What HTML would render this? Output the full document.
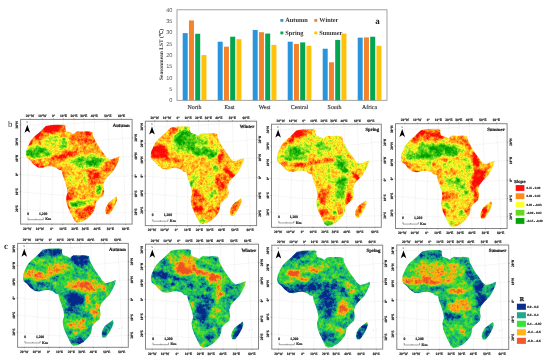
<!DOCTYPE html>
<html><head><meta charset="utf-8"><title>figure</title>
<style>html,body{margin:0;padding:0;background:#fff}body{width:550px;height:364px;overflow:hidden;font-family:"Liberation Serif",serif}svg{display:block;filter:blur(0.35px)}text{font-family:"Liberation Serif",serif;font-size:10px;font-weight:bold;text-anchor:middle;fill:#222;text-rendering:geometricPrecision}.k{fill:#2a2a2a;stroke:#2a2a2a;stroke-width:.55px}.t{stroke:#222;stroke-width:.45px}</style>
</head><body>
<svg width="550" height="364" viewBox="0 0 550 364">
<rect width="550" height="364" fill="#fff"/>
<defs><clipPath id="af"><path d="M5.2 35.1L6 30.1L8 25.6L10.4 20.9L14 16.9L18 13.6L22 9.8L25.2 6.5L30.2 5.5L36.3 5L43 5L45 6.2L44.6 8.6L45.6 11.7L50.2 13.2L53 14.8L54.6 13L56.6 11.8L59.6 12L62.6 12.2L65.8 11.8L68.8 12.1L71.9 12.8L72.6 17.1L74.9 21.6L78 27.1L81.9 32.4L85.7 37.8L88.8 40.2L93.4 39L99 36.9L98.2 40.9L95.7 46.3L92.6 51.6L87.2 57.1L84.2 60.9L82.6 65.5L83.6 71.6L82.6 76.3L78.8 79.4L75.2 83.2L74.6 87.8L73.4 91.6L70.3 95.5L66.4 99.4L61.1 102.4L56.4 103.3L53.8 101.2L51.8 97.2L49.8 93L47.7 88.6L46.1 84L45.4 78.6L46.9 73.2L46.3 68.6L45 64L43.4 59.4L41.8 54.8L41.1 51.2L38 50.4L35.7 48.3L31.1 46.9L26.4 47.2L21.9 48.4L17.2 48L12.6 44.5L9.6 40.8L6.3 38.4ZM95.8 77.2L96.7 80.1L95 84.9L92 90.4L88.6 94.9L85.6 94.8L84.6 91.6L85.2 88L87.6 83.6L91 80.8L93.8 78.8Z"/></clipPath></defs>
<defs><radialGradient id="v1"><stop offset="0" stop-color="#050505"/><stop offset="0.45" stop-color="#050505"/><stop offset="1" stop-color="#050505" stop-opacity="0"/></radialGradient><radialGradient id="v2"><stop offset="0" stop-color="#0a0a0a"/><stop offset="0.45" stop-color="#0a0a0a"/><stop offset="1" stop-color="#0a0a0a" stop-opacity="0"/></radialGradient><radialGradient id="v3"><stop offset="0" stop-color="#0f0f0f"/><stop offset="0.45" stop-color="#0f0f0f"/><stop offset="1" stop-color="#0f0f0f" stop-opacity="0"/></radialGradient><radialGradient id="v4"><stop offset="0" stop-color="#141414"/><stop offset="0.45" stop-color="#141414"/><stop offset="1" stop-color="#141414" stop-opacity="0"/></radialGradient><radialGradient id="v5"><stop offset="0" stop-color="#1a1a1a"/><stop offset="0.45" stop-color="#1a1a1a"/><stop offset="1" stop-color="#1a1a1a" stop-opacity="0"/></radialGradient><radialGradient id="v6"><stop offset="0" stop-color="#1f1f1f"/><stop offset="0.45" stop-color="#1f1f1f"/><stop offset="1" stop-color="#1f1f1f" stop-opacity="0"/></radialGradient><radialGradient id="v7"><stop offset="0" stop-color="#242424"/><stop offset="0.45" stop-color="#242424"/><stop offset="1" stop-color="#242424" stop-opacity="0"/></radialGradient><radialGradient id="v8"><stop offset="0" stop-color="#292929"/><stop offset="0.45" stop-color="#292929"/><stop offset="1" stop-color="#292929" stop-opacity="0"/></radialGradient><radialGradient id="v9"><stop offset="0" stop-color="#2e2e2e"/><stop offset="0.45" stop-color="#2e2e2e"/><stop offset="1" stop-color="#2e2e2e" stop-opacity="0"/></radialGradient><radialGradient id="v10"><stop offset="0" stop-color="#333333"/><stop offset="0.45" stop-color="#333333"/><stop offset="1" stop-color="#333333" stop-opacity="0"/></radialGradient><radialGradient id="v11"><stop offset="0" stop-color="#383838"/><stop offset="0.45" stop-color="#383838"/><stop offset="1" stop-color="#383838" stop-opacity="0"/></radialGradient><radialGradient id="v12"><stop offset="0" stop-color="#3d3d3d"/><stop offset="0.45" stop-color="#3d3d3d"/><stop offset="1" stop-color="#3d3d3d" stop-opacity="0"/></radialGradient><radialGradient id="v13"><stop offset="0" stop-color="#424242"/><stop offset="0.45" stop-color="#424242"/><stop offset="1" stop-color="#424242" stop-opacity="0"/></radialGradient><radialGradient id="v14"><stop offset="0" stop-color="#474747"/><stop offset="0.45" stop-color="#474747"/><stop offset="1" stop-color="#474747" stop-opacity="0"/></radialGradient><radialGradient id="v15"><stop offset="0" stop-color="#4c4c4c"/><stop offset="0.45" stop-color="#4c4c4c"/><stop offset="1" stop-color="#4c4c4c" stop-opacity="0"/></radialGradient><radialGradient id="v16"><stop offset="0" stop-color="#525252"/><stop offset="0.45" stop-color="#525252"/><stop offset="1" stop-color="#525252" stop-opacity="0"/></radialGradient><radialGradient id="v17"><stop offset="0" stop-color="#575757"/><stop offset="0.45" stop-color="#575757"/><stop offset="1" stop-color="#575757" stop-opacity="0"/></radialGradient><radialGradient id="v18"><stop offset="0" stop-color="#5c5c5c"/><stop offset="0.45" stop-color="#5c5c5c"/><stop offset="1" stop-color="#5c5c5c" stop-opacity="0"/></radialGradient><radialGradient id="v19"><stop offset="0" stop-color="#616161"/><stop offset="0.45" stop-color="#616161"/><stop offset="1" stop-color="#616161" stop-opacity="0"/></radialGradient><radialGradient id="v20"><stop offset="0" stop-color="#666666"/><stop offset="0.45" stop-color="#666666"/><stop offset="1" stop-color="#666666" stop-opacity="0"/></radialGradient><radialGradient id="v21"><stop offset="0" stop-color="#6b6b6b"/><stop offset="0.45" stop-color="#6b6b6b"/><stop offset="1" stop-color="#6b6b6b" stop-opacity="0"/></radialGradient><radialGradient id="v22"><stop offset="0" stop-color="#707070"/><stop offset="0.45" stop-color="#707070"/><stop offset="1" stop-color="#707070" stop-opacity="0"/></radialGradient><radialGradient id="v23"><stop offset="0" stop-color="#757575"/><stop offset="0.45" stop-color="#757575"/><stop offset="1" stop-color="#757575" stop-opacity="0"/></radialGradient><radialGradient id="v24"><stop offset="0" stop-color="#7a7a7a"/><stop offset="0.45" stop-color="#7a7a7a"/><stop offset="1" stop-color="#7a7a7a" stop-opacity="0"/></radialGradient><radialGradient id="v25"><stop offset="0" stop-color="#808080"/><stop offset="0.45" stop-color="#808080"/><stop offset="1" stop-color="#808080" stop-opacity="0"/></radialGradient><radialGradient id="v26"><stop offset="0" stop-color="#858585"/><stop offset="0.45" stop-color="#858585"/><stop offset="1" stop-color="#858585" stop-opacity="0"/></radialGradient><radialGradient id="v27"><stop offset="0" stop-color="#8a8a8a"/><stop offset="0.45" stop-color="#8a8a8a"/><stop offset="1" stop-color="#8a8a8a" stop-opacity="0"/></radialGradient><radialGradient id="v28"><stop offset="0" stop-color="#8f8f8f"/><stop offset="0.45" stop-color="#8f8f8f"/><stop offset="1" stop-color="#8f8f8f" stop-opacity="0"/></radialGradient><radialGradient id="v29"><stop offset="0" stop-color="#949494"/><stop offset="0.45" stop-color="#949494"/><stop offset="1" stop-color="#949494" stop-opacity="0"/></radialGradient><radialGradient id="v30"><stop offset="0" stop-color="#999999"/><stop offset="0.45" stop-color="#999999"/><stop offset="1" stop-color="#999999" stop-opacity="0"/></radialGradient><radialGradient id="v31"><stop offset="0" stop-color="#9e9e9e"/><stop offset="0.45" stop-color="#9e9e9e"/><stop offset="1" stop-color="#9e9e9e" stop-opacity="0"/></radialGradient><radialGradient id="v32"><stop offset="0" stop-color="#a3a3a3"/><stop offset="0.45" stop-color="#a3a3a3"/><stop offset="1" stop-color="#a3a3a3" stop-opacity="0"/></radialGradient><radialGradient id="v33"><stop offset="0" stop-color="#a8a8a8"/><stop offset="0.45" stop-color="#a8a8a8"/><stop offset="1" stop-color="#a8a8a8" stop-opacity="0"/></radialGradient><radialGradient id="v34"><stop offset="0" stop-color="#adadad"/><stop offset="0.45" stop-color="#adadad"/><stop offset="1" stop-color="#adadad" stop-opacity="0"/></radialGradient><radialGradient id="v35"><stop offset="0" stop-color="#b2b2b2"/><stop offset="0.45" stop-color="#b2b2b2"/><stop offset="1" stop-color="#b2b2b2" stop-opacity="0"/></radialGradient><radialGradient id="v36"><stop offset="0" stop-color="#b8b8b8"/><stop offset="0.45" stop-color="#b8b8b8"/><stop offset="1" stop-color="#b8b8b8" stop-opacity="0"/></radialGradient><radialGradient id="v37"><stop offset="0" stop-color="#bdbdbd"/><stop offset="0.45" stop-color="#bdbdbd"/><stop offset="1" stop-color="#bdbdbd" stop-opacity="0"/></radialGradient><radialGradient id="v38"><stop offset="0" stop-color="#c2c2c2"/><stop offset="0.45" stop-color="#c2c2c2"/><stop offset="1" stop-color="#c2c2c2" stop-opacity="0"/></radialGradient><radialGradient id="v39"><stop offset="0" stop-color="#c7c7c7"/><stop offset="0.45" stop-color="#c7c7c7"/><stop offset="1" stop-color="#c7c7c7" stop-opacity="0"/></radialGradient><radialGradient id="v40"><stop offset="0" stop-color="#cccccc"/><stop offset="0.45" stop-color="#cccccc"/><stop offset="1" stop-color="#cccccc" stop-opacity="0"/></radialGradient><radialGradient id="v41"><stop offset="0" stop-color="#d1d1d1"/><stop offset="0.45" stop-color="#d1d1d1"/><stop offset="1" stop-color="#d1d1d1" stop-opacity="0"/></radialGradient><radialGradient id="v42"><stop offset="0" stop-color="#d6d6d6"/><stop offset="0.45" stop-color="#d6d6d6"/><stop offset="1" stop-color="#d6d6d6" stop-opacity="0"/></radialGradient><radialGradient id="v43"><stop offset="0" stop-color="#dbdbdb"/><stop offset="0.45" stop-color="#dbdbdb"/><stop offset="1" stop-color="#dbdbdb" stop-opacity="0"/></radialGradient><radialGradient id="v44"><stop offset="0" stop-color="#e0e0e0"/><stop offset="0.45" stop-color="#e0e0e0"/><stop offset="1" stop-color="#e0e0e0" stop-opacity="0"/></radialGradient><radialGradient id="v45"><stop offset="0" stop-color="#e6e6e6"/><stop offset="0.45" stop-color="#e6e6e6"/><stop offset="1" stop-color="#e6e6e6" stop-opacity="0"/></radialGradient><radialGradient id="v46"><stop offset="0" stop-color="#ebebeb"/><stop offset="0.45" stop-color="#ebebeb"/><stop offset="1" stop-color="#ebebeb" stop-opacity="0"/></radialGradient><radialGradient id="v47"><stop offset="0" stop-color="#f0f0f0"/><stop offset="0.45" stop-color="#f0f0f0"/><stop offset="1" stop-color="#f0f0f0" stop-opacity="0"/></radialGradient><radialGradient id="v48"><stop offset="0" stop-color="#f5f5f5"/><stop offset="0.45" stop-color="#f5f5f5"/><stop offset="1" stop-color="#f5f5f5" stop-opacity="0"/></radialGradient><radialGradient id="v50"><stop offset="0" stop-color="#ffffff"/><stop offset="0.45" stop-color="#ffffff"/><stop offset="1" stop-color="#ffffff" stop-opacity="0"/></radialGradient></defs>
<rect x="177" y="9.8" width="210" height="90.5" fill="#fff" stroke="#8c8c8c" stroke-width="0.8"/>
<rect x="182.70" y="33.10" width="5.0" height="67.20" fill="#2b95dc"/>
<rect x="188.95" y="20.43" width="5.0" height="79.87" fill="#f4842c"/>
<rect x="195.20" y="33.78" width="5.0" height="66.52" fill="#04a550"/>
<rect x="201.45" y="55.05" width="5.0" height="45.25" fill="#ffc20a"/>
<rect x="217.70" y="41.70" width="5.0" height="58.60" fill="#2b95dc"/>
<rect x="223.95" y="46.68" width="5.0" height="53.62" fill="#f4842c"/>
<rect x="230.20" y="36.72" width="5.0" height="63.58" fill="#04a550"/>
<rect x="236.45" y="39.21" width="5.0" height="61.09" fill="#ffc20a"/>
<rect x="252.70" y="29.94" width="5.0" height="70.36" fill="#2b95dc"/>
<rect x="258.95" y="32.20" width="5.0" height="68.10" fill="#f4842c"/>
<rect x="265.20" y="33.56" width="5.0" height="66.74" fill="#04a550"/>
<rect x="271.45" y="44.87" width="5.0" height="55.43" fill="#ffc20a"/>
<rect x="287.70" y="41.70" width="5.0" height="58.60" fill="#2b95dc"/>
<rect x="293.95" y="43.96" width="5.0" height="56.34" fill="#f4842c"/>
<rect x="300.20" y="42.38" width="5.0" height="57.92" fill="#04a550"/>
<rect x="306.45" y="45.77" width="5.0" height="54.53" fill="#ffc20a"/>
<rect x="322.70" y="48.71" width="5.0" height="51.59" fill="#2b95dc"/>
<rect x="328.95" y="62.29" width="5.0" height="38.01" fill="#f4842c"/>
<rect x="335.20" y="39.89" width="5.0" height="60.41" fill="#04a550"/>
<rect x="341.45" y="33.56" width="5.0" height="66.74" fill="#ffc20a"/>
<rect x="357.70" y="37.63" width="5.0" height="62.67" fill="#2b95dc"/>
<rect x="363.95" y="37.40" width="5.0" height="62.90" fill="#f4842c"/>
<rect x="370.20" y="36.72" width="5.0" height="63.58" fill="#04a550"/>
<rect x="376.45" y="45.77" width="5.0" height="54.53" fill="#ffc20a"/>
<text transform="translate(172.40 102.20) scale(0.56)" style="font-family:'Liberation Sans',sans-serif;font-weight:normal;text-anchor:end;fill:#555">0</text>
<text transform="translate(172.40 90.89) scale(0.56)" style="font-family:'Liberation Sans',sans-serif;font-weight:normal;text-anchor:end;fill:#555">5</text>
<text transform="translate(172.40 79.58) scale(0.56)" style="font-family:'Liberation Sans',sans-serif;font-weight:normal;text-anchor:end;fill:#555">10</text>
<text transform="translate(172.40 68.26) scale(0.56)" style="font-family:'Liberation Sans',sans-serif;font-weight:normal;text-anchor:end;fill:#555">15</text>
<text transform="translate(172.40 56.95) scale(0.56)" style="font-family:'Liberation Sans',sans-serif;font-weight:normal;text-anchor:end;fill:#555">20</text>
<text transform="translate(172.40 45.64) scale(0.56)" style="font-family:'Liberation Sans',sans-serif;font-weight:normal;text-anchor:end;fill:#555">25</text>
<text transform="translate(172.40 34.32) scale(0.56)" style="font-family:'Liberation Sans',sans-serif;font-weight:normal;text-anchor:end;fill:#555">30</text>
<text transform="translate(172.40 23.01) scale(0.56)" style="font-family:'Liberation Sans',sans-serif;font-weight:normal;text-anchor:end;fill:#555">35</text>
<text transform="translate(172.40 11.70) scale(0.56)" style="font-family:'Liberation Sans',sans-serif;font-weight:normal;text-anchor:end;fill:#555">40</text>
<text transform="translate(194.50 108.60) scale(0.59)" style="font-weight:normal;fill:#333" stroke="#333" stroke-width="0.25">North</text>
<text transform="translate(229.50 108.60) scale(0.59)" style="font-weight:normal;fill:#333" stroke="#333" stroke-width="0.25">East</text>
<text transform="translate(264.50 108.60) scale(0.59)" style="font-weight:normal;fill:#333" stroke="#333" stroke-width="0.25">West</text>
<text transform="translate(299.50 108.60) scale(0.59)" style="font-weight:normal;fill:#333" stroke="#333" stroke-width="0.25">Central</text>
<text transform="translate(334.50 108.60) scale(0.59)" style="font-weight:normal;fill:#333" stroke="#333" stroke-width="0.25">South</text>
<text transform="translate(369.50 108.60) scale(0.59)" style="font-weight:normal;fill:#333" stroke="#333" stroke-width="0.25">Africa</text>
<text transform="translate(162.50 54.50) rotate(-90) scale(0.55)" style="fill:#333">Seasonmean LST (℃)</text>
<rect x="280.4" y="19" width="2.9" height="2.8" fill="#2b95dc"/>
<text transform="translate(285.30 22.40) scale(0.63)" style="text-anchor:start;fill:#333">Autumn</text>
<rect x="314.3" y="19" width="2.9" height="2.8" fill="#f4842c"/>
<text transform="translate(319.20 22.40) scale(0.63)" style="text-anchor:start;fill:#333">Winter</text>
<rect x="280.4" y="31.5" width="2.9" height="2.8" fill="#04a550"/>
<text transform="translate(285.30 34.90) scale(0.63)" style="text-anchor:start;fill:#333">Spring</text>
<rect x="314.3" y="31.5" width="2.9" height="2.8" fill="#ffc20a"/>
<text transform="translate(319.20 34.90) scale(0.63)" style="text-anchor:start;fill:#333">Summer</text>
<text transform="translate(377.40 24.00) scale(0.9)">a</text>
<filter id="f0" x="-0.05" y="-0.05" width="1.1" height="1.1" color-interpolation-filters="sRGB"><feGaussianBlur in="SourceGraphic" stdDeviation="0.9" result="b"/><feTurbulence type="fractalNoise" baseFrequency="0.38" numOctaves="3" seed="1" result="n"/><feColorMatrix in="n" type="matrix" values="1 0 0 0 0 1 0 0 0 0 1 0 0 0 0 0 0 0 0 1" result="g"/><feComposite in="b" in2="g" operator="arithmetic" k1="0" k2="1.25" k3="0.55" k4="-0.4" result="f"/><feTurbulence type="fractalNoise" baseFrequency="0.13" numOctaves="2" seed="21" result="n2"/><feColorMatrix in="n2" type="matrix" values="1 0 0 0 0 1 0 0 0 0 1 0 0 0 0 0 0 0 0 1" result="g2"/><feComposite in="f" in2="g2" operator="arithmetic" k1="0" k2="1" k3="0.55" k4="-0.275" result="f"/><feComponentTransfer in="f" result="c"><feFuncR type="table" tableValues="0.000 0.376 1.000 1.000 0.988"/><feFuncG type="table" tableValues="0.627 0.839 0.980 0.557 0.047"/><feFuncB type="table" tableValues="0.000 0.118 0.157 0.086 0.031"/></feComponentTransfer><feGaussianBlur in="c" stdDeviation="0.4"/></filter>
<g transform="translate(20.60 119.40) scale(1.0000 1.0000)">
<g fill="none" stroke="#e4e4e4" stroke-width="0.35">
<path d="M9.4 0Q7.138 52 6.7 104.7"/>
<path d="M21.8 0Q19.886 52 19.3 104.7"/>
<path d="M32.9 0Q31.608 52 31.2 104.7"/>
<path d="M42.9 0Q42.358 52 42.3 104.7"/>
<path d="M53.4 0Q53.768 52 54.2 104.7"/>
<path d="M63.2 0Q64.114 52 64.7 104.7"/>
<path d="M73.7 0Q75.424 52 76.4 104.7"/>
<path d="M87.3 0Q89.196 52 89.8 104.7"/>
<path d="M100.9 0Q103.868 52 105 104.7"/>
<path d="M0 5.5Q52 6.75 111.5 -2"/>
<path d="M0 22Q52 25 111.5 18"/>
<path d="M0 38Q52 42.4 111.5 36.8"/>
<path d="M0 55Q52 60.7 111.5 56.4"/>
<path d="M0 72.3Q52 78.65 111.5 75"/>
<path d="M0 89.5Q52 96.15 111.5 92.8"/>
</g>
<g clip-path="url(#af)"><g filter="url(#f0)">
<rect x="-12" y="-12" width="136" height="130" fill="#a8a8a8"/>
<ellipse cx="38.35" cy="22.60" rx="25.03" ry="10.01" fill="url(#v23)"/><ellipse cx="46.82" cy="20.99" rx="6.26" ry="3.44" fill="url(#v15)"/><ellipse cx="40.36" cy="27.04" rx="6.88" ry="2.82" fill="url(#v15)"/><ellipse cx="32.29" cy="19.37" rx="5.63" ry="3.13" fill="url(#v18)"/><ellipse cx="16.15" cy="32.29" rx="20.65" ry="9.38" fill="url(#v17)" transform="rotate(5 16.15 32.29)"/><ellipse cx="8.07" cy="33.50" rx="6.26" ry="4.38" fill="url(#v9)"/><ellipse cx="20.18" cy="30.27" rx="8.13" ry="3.44" fill="url(#v10)"/><ellipse cx="14.13" cy="36.33" rx="7.51" ry="3.13" fill="url(#v12)"/><ellipse cx="26.24" cy="34.31" rx="6.26" ry="3.13" fill="url(#v15)"/><ellipse cx="30.27" cy="9.28" rx="22.52" ry="5.32" fill="url(#v48)" transform="rotate(-5 30.27 9.28)"/><ellipse cx="17.76" cy="14.53" rx="9.38" ry="4.38" fill="url(#v46)" transform="rotate(-40 17.76 14.53)"/><ellipse cx="8.48" cy="22.60" rx="3.44" ry="8.13" fill="url(#v43)" transform="rotate(32 8.48 22.60)"/><ellipse cx="57.52" cy="19.17" rx="12.51" ry="7.82" fill="url(#v37)"/><ellipse cx="67.61" cy="14.13" rx="4.69" ry="3.44" fill="url(#v48)"/><ellipse cx="65.79" cy="21.39" rx="3.13" ry="4.38" fill="url(#v46)"/><ellipse cx="73.06" cy="18.57" rx="5.01" ry="5.63" fill="url(#v35)"/><ellipse cx="42.38" cy="36.53" rx="26.90" ry="2.82" fill="url(#v40)" transform="rotate(-10 42.38 36.53)"/><ellipse cx="40.36" cy="37.54" rx="5.63" ry="2.19" fill="url(#v48)"/><ellipse cx="50.86" cy="34.31" rx="5.01" ry="1.88" fill="url(#v46)" transform="rotate(-10 50.86 34.31)"/><ellipse cx="67.61" cy="42.38" rx="23.77" ry="8.76" fill="url(#v15)" transform="rotate(-3 67.61 42.38)"/><ellipse cx="69.83" cy="43.59" rx="8.13" ry="3.44" fill="url(#v7)"/><ellipse cx="60.54" cy="40.36" rx="5.63" ry="3.13" fill="url(#v8)"/><ellipse cx="79.11" cy="40.36" rx="6.26" ry="3.13" fill="url(#v9)"/><ellipse cx="74.67" cy="46.42" rx="5.01" ry="2.82" fill="url(#v11)"/><ellipse cx="80.73" cy="30.27" rx="4.38" ry="6.88" fill="url(#v31)" transform="rotate(-30 80.73 30.27)"/><ellipse cx="90.82" cy="43.59" rx="9.38" ry="4.38" fill="url(#v40)" transform="rotate(-25 90.82 43.59)"/><ellipse cx="87.18" cy="48.03" rx="4.38" ry="3.13" fill="url(#v46)"/><ellipse cx="11.71" cy="45.61" rx="11.89" ry="4.07" fill="url(#v48)" transform="rotate(38 11.71 45.61)"/><ellipse cx="24.22" cy="49.65" rx="14.08" ry="3.13" fill="url(#v46)" transform="rotate(3 24.22 49.65)"/><ellipse cx="36.73" cy="48.44" rx="7.51" ry="2.82" fill="url(#v40)"/><ellipse cx="41.37" cy="45.41" rx="9.38" ry="3.75" fill="url(#v27)"/><ellipse cx="53.48" cy="59.06" rx="12.51" ry="10.95" fill="url(#v28)"/><ellipse cx="50.86" cy="58.05" rx="4.38" ry="3.75" fill="url(#v21)"/><ellipse cx="58.53" cy="64.11" rx="5.01" ry="3.75" fill="url(#v23)"/><ellipse cx="75.08" cy="58.46" rx="10.64" ry="8.76" fill="url(#v37)"/><ellipse cx="76.69" cy="56.04" rx="3.44" ry="3.13" fill="url(#v46)"/><ellipse cx="71.04" cy="62.09" rx="2.50" ry="2.50" fill="url(#v45)"/><ellipse cx="79.11" cy="62.49" rx="2.50" ry="3.13" fill="url(#v45)"/><ellipse cx="68.62" cy="52.00" rx="4.38" ry="3.13" fill="url(#v45)"/><ellipse cx="64.98" cy="60.07" rx="3.13" ry="9.38" fill="url(#v18)"/><ellipse cx="77.90" cy="70.57" rx="4.07" ry="7.51" fill="url(#v12)"/><ellipse cx="65.59" cy="70.57" rx="8.13" ry="6.88" fill="url(#v31)"/><ellipse cx="47.23" cy="82.27" rx="2.82" ry="16.27" fill="url(#v47)" transform="rotate(-8 47.23 82.27)"/><ellipse cx="51.46" cy="73.19" rx="5.63" ry="6.88" fill="url(#v37)"/><ellipse cx="56.91" cy="84.29" rx="12.51" ry="5.01" fill="url(#v14)" transform="rotate(5 56.91 84.29)"/><ellipse cx="52.88" cy="85.50" rx="5.01" ry="2.82" fill="url(#v6)"/><ellipse cx="60.54" cy="83.48" rx="4.38" ry="2.50" fill="url(#v9)"/><ellipse cx="67.41" cy="82.27" rx="5.01" ry="3.75" fill="url(#v21)"/><ellipse cx="81.13" cy="78.64" rx="3.75" ry="4.38" fill="url(#v31)"/><ellipse cx="79.92" cy="84.69" rx="3.13" ry="3.75" fill="url(#v37)"/><ellipse cx="69.02" cy="90.75" rx="6.26" ry="4.38" fill="url(#v43)" transform="rotate(30 69.02 90.75)"/><ellipse cx="60.95" cy="95.19" rx="8.13" ry="4.38" fill="url(#v41)"/><ellipse cx="58.53" cy="100.84" rx="5.63" ry="2.82" fill="url(#v31)"/><ellipse cx="90.82" cy="85.91" rx="4.69" ry="11.26" fill="url(#v29)" transform="rotate(25 90.82 85.91)"/><ellipse cx="88.40" cy="88.73" rx="2.50" ry="8.13" fill="url(#v44)" transform="rotate(22 88.40 88.73)"/>
</g></g>
<circle cx="102.3" cy="85.6" r="0.35" fill="#e8c878"/><circle cx="105.6" cy="85.2" r="0.35" fill="#e8c878"/>
<rect x="0" y="0" width="111.5" height="104.7" fill="none" stroke="#858585" stroke-width="1"/>
<path d="M9.4 0v-1M6.7 104.7v1M21.8 0v-1M19.3 104.7v1M32.9 0v-1M31.2 104.7v1M42.9 0v-1M42.3 104.7v1M53.4 0v-1M54.2 104.7v1M63.2 0v-1M64.7 104.7v1M73.7 0v-1M76.4 104.7v1M87.3 0v-1M89.8 104.7v1M100.9 0v-1M105 104.7v1M0 5.5h-1M0 22.3h-1M0 39h-1M0 55h-1M0 72.4h-1M0 89.3h-1M111.5 18.4h1M111.5 36.7h1M111.5 56.4h1M111.5 74.7h1M111.5 92.5h1" stroke="#555" stroke-width="0.5" fill="none"/>
<text transform="translate(9.40 -2.20) scale(0.35)" class="k">20°W</text>
<text transform="translate(6.70 110.60) scale(0.35)" class="k">20°W</text>
<text transform="translate(21.80 -2.20) scale(0.35)" class="k">10°W</text>
<text transform="translate(19.30 110.60) scale(0.35)" class="k">10°W</text>
<text transform="translate(32.90 -2.20) scale(0.35)" class="k">0°</text>
<text transform="translate(31.20 110.60) scale(0.35)" class="k">0°</text>
<text transform="translate(42.90 -2.20) scale(0.35)" class="k">10°E</text>
<text transform="translate(42.30 110.60) scale(0.35)" class="k">10°E</text>
<text transform="translate(53.40 -2.20) scale(0.35)" class="k">20°E</text>
<text transform="translate(54.20 110.60) scale(0.35)" class="k">20°E</text>
<text transform="translate(63.20 -2.20) scale(0.35)" class="k">30°E</text>
<text transform="translate(64.70 110.60) scale(0.35)" class="k">30°E</text>
<text transform="translate(73.70 -2.20) scale(0.35)" class="k">40°E</text>
<text transform="translate(76.40 110.60) scale(0.35)" class="k">40°E</text>
<text transform="translate(87.30 -2.20) scale(0.35)" class="k">50°E</text>
<text transform="translate(89.80 110.60) scale(0.35)" class="k">50°E</text>
<text transform="translate(100.90 -2.20) scale(0.35)" class="k">60°E</text>
<text transform="translate(105.00 110.60) scale(0.35)" class="k">60°E</text>
<text transform="translate(-2.60 5.50) rotate(-90) scale(0.35)" class="k">30°N</text>
<text transform="translate(-2.60 22.30) rotate(-90) scale(0.35)" class="k">20°N</text>
<text transform="translate(-2.60 39.00) rotate(-90) scale(0.35)" class="k">10°N</text>
<text transform="translate(-2.60 55.00) rotate(-90) scale(0.35)" class="k">0°</text>
<text transform="translate(-2.60 72.40) rotate(-90) scale(0.35)" class="k">10°S</text>
<text transform="translate(-2.60 89.30) rotate(-90) scale(0.35)" class="k">20°S</text>
<text transform="translate(116.30 18.40) rotate(-90) scale(0.35)" class="k">20°N</text>
<text transform="translate(116.30 36.70) rotate(-90) scale(0.35)" class="k">10°N</text>
<text transform="translate(116.30 56.40) rotate(-90) scale(0.35)" class="k">0°</text>
<text transform="translate(116.30 74.70) rotate(-90) scale(0.35)" class="k">10°S</text>
<text transform="translate(116.30 92.50) rotate(-90) scale(0.35)" class="k">20°S</text>
<path d="M6.7 5.4L9.5 13.4L6.7 11.4L3.9 13.4Z" fill="#000"/>
<text transform="translate(6.50 3.90) scale(0.22)" style="fill:#333">N</text>
<text transform="translate(109.20 7.30) scale(0.48)" style="text-anchor:end" class="t">Autumn</text>
<path d="M7.5 98.3v2h7.6v-1.1M15.1 100.3h7.6v-2" stroke="#444" stroke-width="0.5" fill="none"/>
<text transform="translate(7.50 95.30) scale(0.37)" class="k">0</text>
<text transform="translate(22.60 95.30) scale(0.37)" class="k">1,200</text>
<text transform="translate(24.60 101.00) scale(0.37)" style="text-anchor:start" class="k">Km</text>
</g>
<filter id="f1" x="-0.05" y="-0.05" width="1.1" height="1.1" color-interpolation-filters="sRGB"><feGaussianBlur in="SourceGraphic" stdDeviation="0.9" result="b"/><feTurbulence type="fractalNoise" baseFrequency="0.38" numOctaves="3" seed="2" result="n"/><feColorMatrix in="n" type="matrix" values="1 0 0 0 0 1 0 0 0 0 1 0 0 0 0 0 0 0 0 1" result="g"/><feComposite in="b" in2="g" operator="arithmetic" k1="0" k2="1.25" k3="0.55" k4="-0.4" result="f"/><feTurbulence type="fractalNoise" baseFrequency="0.13" numOctaves="2" seed="22" result="n2"/><feColorMatrix in="n2" type="matrix" values="1 0 0 0 0 1 0 0 0 0 1 0 0 0 0 0 0 0 0 1" result="g2"/><feComposite in="f" in2="g2" operator="arithmetic" k1="0" k2="1" k3="0.55" k4="-0.275" result="f"/><feComponentTransfer in="f" result="c"><feFuncR type="table" tableValues="0.000 0.376 1.000 1.000 0.988"/><feFuncG type="table" tableValues="0.627 0.839 0.980 0.557 0.047"/><feFuncB type="table" tableValues="0.000 0.118 0.157 0.086 0.031"/></feComponentTransfer><feGaussianBlur in="c" stdDeviation="0.4"/></filter>
<g transform="translate(145.30 121.20) scale(0.9982 0.9971)">
<g fill="none" stroke="#e4e4e4" stroke-width="0.35">
<path d="M9.4 0Q7.138 52 6.7 104.7"/>
<path d="M21.8 0Q19.886 52 19.3 104.7"/>
<path d="M32.9 0Q31.608 52 31.2 104.7"/>
<path d="M42.9 0Q42.358 52 42.3 104.7"/>
<path d="M53.4 0Q53.768 52 54.2 104.7"/>
<path d="M63.2 0Q64.114 52 64.7 104.7"/>
<path d="M73.7 0Q75.424 52 76.4 104.7"/>
<path d="M87.3 0Q89.196 52 89.8 104.7"/>
<path d="M100.9 0Q103.868 52 105 104.7"/>
<path d="M0 5.5Q52 6.75 111.5 -2"/>
<path d="M0 22Q52 25 111.5 18"/>
<path d="M0 38Q52 42.4 111.5 36.8"/>
<path d="M0 55Q52 60.7 111.5 56.4"/>
<path d="M0 72.3Q52 78.65 111.5 75"/>
<path d="M0 89.5Q52 96.15 111.5 92.8"/>
</g>
<g clip-path="url(#af)"><g filter="url(#f1)">
<rect x="-12" y="-12" width="136" height="130" fill="#949494"/>
<ellipse cx="39.35" cy="19.17" rx="15.02" ry="14.39" fill="url(#v8)"/><ellipse cx="57.52" cy="30.27" rx="19.39" ry="6.88" fill="url(#v8)" transform="rotate(10 57.52 30.27)"/><ellipse cx="48.44" cy="13.12" rx="11.26" ry="4.69" fill="url(#v13)"/><ellipse cx="67.61" cy="33.91" rx="5.63" ry="3.13" fill="url(#v8)"/><ellipse cx="60.14" cy="19.17" rx="13.14" ry="9.38" fill="url(#v21)"/><ellipse cx="58.53" cy="22.20" rx="5.63" ry="3.13" fill="url(#v16)"/><ellipse cx="53.48" cy="12.11" rx="5.01" ry="3.13" fill="url(#v21)"/><ellipse cx="66.60" cy="15.34" rx="4.69" ry="7.82" fill="url(#v32)"/><ellipse cx="70.03" cy="22.60" rx="4.38" ry="4.38" fill="url(#v25)"/><ellipse cx="26.24" cy="10.49" rx="8.13" ry="3.75" fill="url(#v36)" transform="rotate(-25 26.24 10.49)"/><ellipse cx="30.68" cy="8.07" rx="3.75" ry="2.19" fill="url(#v46)"/><ellipse cx="20.18" cy="15.34" rx="5.63" ry="3.13" fill="url(#v32)" transform="rotate(-40 20.18 15.34)"/><ellipse cx="12.11" cy="22.20" rx="4.38" ry="4.38" fill="url(#v35)"/><ellipse cx="14.13" cy="30.68" rx="12.51" ry="8.76" fill="url(#v48)"/><ellipse cx="10.09" cy="32.29" rx="6.88" ry="6.26" fill="url(#v50)"/><ellipse cx="28.25" cy="39.56" rx="13.76" ry="3.75" fill="url(#v41)" transform="rotate(3 28.25 39.56)"/><ellipse cx="22.20" cy="32.69" rx="5.01" ry="3.75" fill="url(#v36)"/><ellipse cx="27.25" cy="25.43" rx="6.26" ry="6.26" fill="url(#v20)"/><ellipse cx="12.11" cy="43.59" rx="9.38" ry="3.75" fill="url(#v28)" transform="rotate(30 12.11 43.59)"/><ellipse cx="8.88" cy="39.56" rx="3.75" ry="3.13" fill="url(#v24)"/><ellipse cx="24.22" cy="47.63" rx="12.51" ry="3.13" fill="url(#v31)"/><ellipse cx="40.36" cy="43.59" rx="7.51" ry="4.38" fill="url(#v32)"/><ellipse cx="48.84" cy="40.77" rx="6.26" ry="4.38" fill="url(#v25)"/><ellipse cx="75.88" cy="36.33" rx="5.01" ry="7.51" fill="url(#v42)" transform="rotate(5 75.88 36.33)"/><ellipse cx="79.92" cy="43.59" rx="4.38" ry="3.75" fill="url(#v36)"/><ellipse cx="81.13" cy="48.84" rx="3.75" ry="2.82" fill="url(#v46)"/><ellipse cx="77.90" cy="28.25" rx="3.75" ry="5.63" fill="url(#v34)" transform="rotate(-30 77.90 28.25)"/><ellipse cx="91.22" cy="43.59" rx="7.51" ry="3.13" fill="url(#v30)" transform="rotate(-25 91.22 43.59)"/><ellipse cx="70.64" cy="47.63" rx="4.07" ry="5.32" fill="url(#v10)"/><ellipse cx="60.54" cy="46.82" rx="6.88" ry="4.38" fill="url(#v29)"/><ellipse cx="54.49" cy="58.26" rx="11.26" ry="10.01" fill="url(#v28)"/><ellipse cx="50.45" cy="55.84" rx="3.75" ry="2.82" fill="url(#v21)"/><ellipse cx="45.61" cy="63.10" rx="2.82" ry="6.26" fill="url(#v11)"/><ellipse cx="86.78" cy="54.63" rx="2.82" ry="10.01" fill="url(#v50)" transform="rotate(-42 86.78 54.63)"/><ellipse cx="75.88" cy="61.89" rx="10.64" ry="10.64" fill="url(#v36)"/><ellipse cx="77.90" cy="65.12" rx="3.75" ry="3.75" fill="url(#v45)"/><ellipse cx="73.06" cy="57.85" rx="3.13" ry="3.13" fill="url(#v44)"/><ellipse cx="67.81" cy="60.28" rx="3.13" ry="5.63" fill="url(#v23)"/><ellipse cx="69.02" cy="70.37" rx="3.13" ry="3.13" fill="url(#v12)"/><ellipse cx="52.47" cy="75.21" rx="9.38" ry="9.38" fill="url(#v36)"/><ellipse cx="50.45" cy="71.98" rx="3.75" ry="3.75" fill="url(#v45)"/><ellipse cx="55.70" cy="78.04" rx="3.13" ry="3.13" fill="url(#v44)"/><ellipse cx="64.98" cy="74.40" rx="6.26" ry="6.26" fill="url(#v21)"/><ellipse cx="79.11" cy="74.40" rx="4.38" ry="5.63" fill="url(#v36)"/><ellipse cx="80.73" cy="80.46" rx="3.13" ry="3.75" fill="url(#v31)"/><ellipse cx="49.24" cy="84.09" rx="3.13" ry="9.38" fill="url(#v40)" transform="rotate(-8 49.24 84.09)"/><ellipse cx="53.68" cy="88.53" rx="6.88" ry="5.01" fill="url(#v43)"/><ellipse cx="62.97" cy="84.09" rx="5.01" ry="3.75" fill="url(#v31)"/><ellipse cx="64.98" cy="89.34" rx="3.75" ry="2.82" fill="url(#v43)"/><ellipse cx="60.95" cy="95.39" rx="6.88" ry="3.75" fill="url(#v35)"/><ellipse cx="57.72" cy="100.64" rx="7.51" ry="2.82" fill="url(#v17)"/><ellipse cx="71.85" cy="89.34" rx="3.13" ry="5.01" fill="url(#v40)" transform="rotate(30 71.85 89.34)"/><ellipse cx="90.82" cy="85.30" rx="4.69" ry="11.26" fill="url(#v35)" transform="rotate(25 90.82 85.30)"/><ellipse cx="88.40" cy="88.13" rx="2.50" ry="8.13" fill="url(#v45)" transform="rotate(22 88.40 88.13)"/>
</g></g>
<circle cx="102.3" cy="85.6" r="0.35" fill="#e8c878"/><circle cx="105.6" cy="85.2" r="0.35" fill="#e8c878"/>
<rect x="0" y="0" width="111.5" height="104.7" fill="none" stroke="#858585" stroke-width="1"/>
<path d="M9.4 0v-1M6.7 104.7v1M21.8 0v-1M19.3 104.7v1M32.9 0v-1M31.2 104.7v1M42.9 0v-1M42.3 104.7v1M53.4 0v-1M54.2 104.7v1M63.2 0v-1M64.7 104.7v1M73.7 0v-1M76.4 104.7v1M87.3 0v-1M89.8 104.7v1M100.9 0v-1M105 104.7v1M0 5.5h-1M0 22.3h-1M0 39h-1M0 55h-1M0 72.4h-1M0 89.3h-1M111.5 18.4h1M111.5 36.7h1M111.5 56.4h1M111.5 74.7h1M111.5 92.5h1" stroke="#555" stroke-width="0.5" fill="none"/>
<text transform="translate(9.40 -2.20) scale(0.35)" class="k">20°W</text>
<text transform="translate(6.70 110.60) scale(0.35)" class="k">20°W</text>
<text transform="translate(21.80 -2.20) scale(0.35)" class="k">10°W</text>
<text transform="translate(19.30 110.60) scale(0.35)" class="k">10°W</text>
<text transform="translate(32.90 -2.20) scale(0.35)" class="k">0°</text>
<text transform="translate(31.20 110.60) scale(0.35)" class="k">0°</text>
<text transform="translate(42.90 -2.20) scale(0.35)" class="k">10°E</text>
<text transform="translate(42.30 110.60) scale(0.35)" class="k">10°E</text>
<text transform="translate(53.40 -2.20) scale(0.35)" class="k">20°E</text>
<text transform="translate(54.20 110.60) scale(0.35)" class="k">20°E</text>
<text transform="translate(63.20 -2.20) scale(0.35)" class="k">30°E</text>
<text transform="translate(64.70 110.60) scale(0.35)" class="k">30°E</text>
<text transform="translate(73.70 -2.20) scale(0.35)" class="k">40°E</text>
<text transform="translate(76.40 110.60) scale(0.35)" class="k">40°E</text>
<text transform="translate(87.30 -2.20) scale(0.35)" class="k">50°E</text>
<text transform="translate(89.80 110.60) scale(0.35)" class="k">50°E</text>
<text transform="translate(100.90 -2.20) scale(0.35)" class="k">60°E</text>
<text transform="translate(105.00 110.60) scale(0.35)" class="k">60°E</text>
<text transform="translate(-2.60 5.50) rotate(-90) scale(0.35)" class="k">30°N</text>
<text transform="translate(-2.60 22.30) rotate(-90) scale(0.35)" class="k">20°N</text>
<text transform="translate(-2.60 39.00) rotate(-90) scale(0.35)" class="k">10°N</text>
<text transform="translate(-2.60 55.00) rotate(-90) scale(0.35)" class="k">0°</text>
<text transform="translate(-2.60 72.40) rotate(-90) scale(0.35)" class="k">10°S</text>
<text transform="translate(-2.60 89.30) rotate(-90) scale(0.35)" class="k">20°S</text>
<text transform="translate(116.30 18.40) rotate(-90) scale(0.35)" class="k">20°N</text>
<text transform="translate(116.30 36.70) rotate(-90) scale(0.35)" class="k">10°N</text>
<text transform="translate(116.30 56.40) rotate(-90) scale(0.35)" class="k">0°</text>
<text transform="translate(116.30 74.70) rotate(-90) scale(0.35)" class="k">10°S</text>
<text transform="translate(116.30 92.50) rotate(-90) scale(0.35)" class="k">20°S</text>
<path d="M6.7 5.4L9.5 13.4L6.7 11.4L3.9 13.4Z" fill="#000"/>
<text transform="translate(6.50 3.90) scale(0.22)" style="fill:#333">N</text>
<text transform="translate(109.20 7.30) scale(0.48)" style="text-anchor:end" class="t">Winter</text>
<path d="M7.5 98.3v2h7.6v-1.1M15.1 100.3h7.6v-2" stroke="#444" stroke-width="0.5" fill="none"/>
<text transform="translate(7.50 95.30) scale(0.37)" class="k">0</text>
<text transform="translate(22.60 95.30) scale(0.37)" class="k">1,200</text>
<text transform="translate(24.60 101.00) scale(0.37)" style="text-anchor:start" class="k">Km</text>
</g>
<filter id="f2" x="-0.05" y="-0.05" width="1.1" height="1.1" color-interpolation-filters="sRGB"><feGaussianBlur in="SourceGraphic" stdDeviation="0.9" result="b"/><feTurbulence type="fractalNoise" baseFrequency="0.38" numOctaves="3" seed="3" result="n"/><feColorMatrix in="n" type="matrix" values="1 0 0 0 0 1 0 0 0 0 1 0 0 0 0 0 0 0 0 1" result="g"/><feComposite in="b" in2="g" operator="arithmetic" k1="0" k2="1.25" k3="0.55" k4="-0.4" result="f"/><feTurbulence type="fractalNoise" baseFrequency="0.13" numOctaves="2" seed="23" result="n2"/><feColorMatrix in="n2" type="matrix" values="1 0 0 0 0 1 0 0 0 0 1 0 0 0 0 0 0 0 0 1" result="g2"/><feComposite in="f" in2="g2" operator="arithmetic" k1="0" k2="1" k3="0.55" k4="-0.275" result="f"/><feComponentTransfer in="f" result="c"><feFuncR type="table" tableValues="0.000 0.376 1.000 1.000 0.988"/><feFuncG type="table" tableValues="0.627 0.839 0.980 0.557 0.047"/><feFuncB type="table" tableValues="0.000 0.118 0.157 0.086 0.031"/></feComponentTransfer><feGaussianBlur in="c" stdDeviation="0.4"/></filter>
<g transform="translate(271.50 124.20) scale(0.9848 0.9847)">
<g fill="none" stroke="#e4e4e4" stroke-width="0.35">
<path d="M9.4 0Q7.138 52 6.7 104.7"/>
<path d="M21.8 0Q19.886 52 19.3 104.7"/>
<path d="M32.9 0Q31.608 52 31.2 104.7"/>
<path d="M42.9 0Q42.358 52 42.3 104.7"/>
<path d="M53.4 0Q53.768 52 54.2 104.7"/>
<path d="M63.2 0Q64.114 52 64.7 104.7"/>
<path d="M73.7 0Q75.424 52 76.4 104.7"/>
<path d="M87.3 0Q89.196 52 89.8 104.7"/>
<path d="M100.9 0Q103.868 52 105 104.7"/>
<path d="M0 5.5Q52 6.75 111.5 -2"/>
<path d="M0 22Q52 25 111.5 18"/>
<path d="M0 38Q52 42.4 111.5 36.8"/>
<path d="M0 55Q52 60.7 111.5 56.4"/>
<path d="M0 72.3Q52 78.65 111.5 75"/>
<path d="M0 89.5Q52 96.15 111.5 92.8"/>
</g>
<g clip-path="url(#af)"><g filter="url(#f2)">
<rect x="-12" y="-12" width="136" height="130" fill="#858585"/>
<ellipse cx="28.25" cy="9.28" rx="13.14" ry="5.63" fill="url(#v50)" transform="rotate(-10 28.25 9.28)"/><ellipse cx="20.59" cy="15.34" rx="6.88" ry="3.44" fill="url(#v41)" transform="rotate(-40 20.59 15.34)"/><ellipse cx="12.11" cy="22.20" rx="4.38" ry="5.01" fill="url(#v36)" transform="rotate(20 12.11 22.20)"/><ellipse cx="44.80" cy="9.28" rx="9.38" ry="2.82" fill="url(#v30)"/><ellipse cx="24.22" cy="28.25" rx="14.39" ry="8.76" fill="url(#v13)"/><ellipse cx="23.21" cy="26.24" rx="7.82" ry="4.38" fill="url(#v7)"/><ellipse cx="32.69" cy="34.31" rx="6.26" ry="2.82" fill="url(#v15)"/><ellipse cx="18.16" cy="35.52" rx="6.26" ry="2.82" fill="url(#v16)"/><ellipse cx="10.09" cy="33.50" rx="4.38" ry="3.75" fill="url(#v21)"/><ellipse cx="46.42" cy="22.20" rx="19.39" ry="9.38" fill="url(#v21)"/><ellipse cx="48.84" cy="20.18" rx="4.38" ry="2.50" fill="url(#v11)"/><ellipse cx="52.88" cy="24.62" rx="4.38" ry="2.50" fill="url(#v11)"/><ellipse cx="60.54" cy="17.36" rx="8.13" ry="6.26" fill="url(#v25)"/><ellipse cx="69.83" cy="17.36" rx="5.01" ry="6.88" fill="url(#v28)"/><ellipse cx="50.86" cy="37.54" rx="25.03" ry="2.19" fill="url(#v40)" transform="rotate(-5 50.86 37.54)"/><ellipse cx="46.42" cy="37.94" rx="5.01" ry="1.88" fill="url(#v46)"/><ellipse cx="58.53" cy="36.73" rx="5.01" ry="1.88" fill="url(#v45)"/><ellipse cx="30.27" cy="41.57" rx="12.51" ry="2.50" fill="url(#v40)"/><ellipse cx="28.25" cy="41.57" rx="4.38" ry="1.88" fill="url(#v46)"/><ellipse cx="14.13" cy="40.36" rx="4.38" ry="2.50" fill="url(#v41)"/><ellipse cx="70.64" cy="40.36" rx="9.38" ry="9.38" fill="url(#v12)"/><ellipse cx="67.81" cy="34.31" rx="5.01" ry="3.13" fill="url(#v11)"/><ellipse cx="74.67" cy="46.82" rx="4.38" ry="3.75" fill="url(#v5)"/><ellipse cx="79.11" cy="38.35" rx="5.01" ry="5.63" fill="url(#v20)"/><ellipse cx="91.22" cy="43.59" rx="7.51" ry="3.13" fill="url(#v29)" transform="rotate(-25 91.22 43.59)"/><ellipse cx="10.09" cy="43.59" rx="8.13" ry="3.13" fill="url(#v31)" transform="rotate(40 10.09 43.59)"/><ellipse cx="20.99" cy="48.84" rx="12.51" ry="2.82" fill="url(#v40)" transform="rotate(3 20.99 48.84)"/><ellipse cx="40.36" cy="45.61" rx="8.13" ry="3.75" fill="url(#v28)"/><ellipse cx="86.78" cy="54.22" rx="2.82" ry="9.38" fill="url(#v50)" transform="rotate(-42 86.78 54.22)"/><ellipse cx="54.89" cy="57.05" rx="11.26" ry="8.76" fill="url(#v25)"/><ellipse cx="48.44" cy="60.28" rx="4.38" ry="4.38" fill="url(#v31)"/><ellipse cx="71.44" cy="61.89" rx="6.88" ry="12.51" fill="url(#v10)"/><ellipse cx="79.11" cy="61.89" rx="3.75" ry="5.01" fill="url(#v30)"/><ellipse cx="81.13" cy="57.85" rx="3.13" ry="3.13" fill="url(#v36)"/><ellipse cx="51.66" cy="73.19" rx="7.82" ry="9.38" fill="url(#v43)"/><ellipse cx="64.98" cy="74.40" rx="5.63" ry="5.01" fill="url(#v20)"/><ellipse cx="69.83" cy="71.98" rx="3.75" ry="3.75" fill="url(#v10)"/><ellipse cx="77.90" cy="75.21" rx="3.44" ry="9.38" fill="url(#v45)" transform="rotate(5 77.90 75.21)"/><ellipse cx="46.82" cy="81.27" rx="2.19" ry="6.26" fill="url(#v18)" transform="rotate(-8 46.82 81.27)"/><ellipse cx="53.68" cy="89.34" rx="6.26" ry="4.69" fill="url(#v48)"/><ellipse cx="60.95" cy="84.09" rx="5.01" ry="3.75" fill="url(#v29)"/><ellipse cx="64.98" cy="89.34" rx="4.07" ry="4.07" fill="url(#v10)"/><ellipse cx="69.42" cy="88.13" rx="3.13" ry="5.01" fill="url(#v43)" transform="rotate(30 69.42 88.13)"/><ellipse cx="60.95" cy="95.39" rx="5.63" ry="3.13" fill="url(#v40)"/><ellipse cx="57.72" cy="100.64" rx="6.88" ry="2.82" fill="url(#v10)"/><ellipse cx="90.82" cy="85.30" rx="4.69" ry="11.26" fill="url(#v33)" transform="rotate(25 90.82 85.30)"/><ellipse cx="88.40" cy="88.13" rx="2.50" ry="8.13" fill="url(#v48)" transform="rotate(22 88.40 88.13)"/>
</g></g>
<circle cx="102.3" cy="85.6" r="0.35" fill="#e8c878"/><circle cx="105.6" cy="85.2" r="0.35" fill="#e8c878"/>
<rect x="0" y="0" width="111.5" height="104.7" fill="none" stroke="#858585" stroke-width="1"/>
<path d="M9.4 0v-1M6.7 104.7v1M21.8 0v-1M19.3 104.7v1M32.9 0v-1M31.2 104.7v1M42.9 0v-1M42.3 104.7v1M53.4 0v-1M54.2 104.7v1M63.2 0v-1M64.7 104.7v1M73.7 0v-1M76.4 104.7v1M87.3 0v-1M89.8 104.7v1M100.9 0v-1M105 104.7v1M0 5.5h-1M0 22.3h-1M0 39h-1M0 55h-1M0 72.4h-1M0 89.3h-1M111.5 18.4h1M111.5 36.7h1M111.5 56.4h1M111.5 74.7h1M111.5 92.5h1" stroke="#555" stroke-width="0.5" fill="none"/>
<text transform="translate(9.40 -2.20) scale(0.35)" class="k">20°W</text>
<text transform="translate(6.70 110.60) scale(0.35)" class="k">20°W</text>
<text transform="translate(21.80 -2.20) scale(0.35)" class="k">10°W</text>
<text transform="translate(19.30 110.60) scale(0.35)" class="k">10°W</text>
<text transform="translate(32.90 -2.20) scale(0.35)" class="k">0°</text>
<text transform="translate(31.20 110.60) scale(0.35)" class="k">0°</text>
<text transform="translate(42.90 -2.20) scale(0.35)" class="k">10°E</text>
<text transform="translate(42.30 110.60) scale(0.35)" class="k">10°E</text>
<text transform="translate(53.40 -2.20) scale(0.35)" class="k">20°E</text>
<text transform="translate(54.20 110.60) scale(0.35)" class="k">20°E</text>
<text transform="translate(63.20 -2.20) scale(0.35)" class="k">30°E</text>
<text transform="translate(64.70 110.60) scale(0.35)" class="k">30°E</text>
<text transform="translate(73.70 -2.20) scale(0.35)" class="k">40°E</text>
<text transform="translate(76.40 110.60) scale(0.35)" class="k">40°E</text>
<text transform="translate(87.30 -2.20) scale(0.35)" class="k">50°E</text>
<text transform="translate(89.80 110.60) scale(0.35)" class="k">50°E</text>
<text transform="translate(100.90 -2.20) scale(0.35)" class="k">60°E</text>
<text transform="translate(105.00 110.60) scale(0.35)" class="k">60°E</text>
<text transform="translate(-2.60 5.50) rotate(-90) scale(0.35)" class="k">30°N</text>
<text transform="translate(-2.60 22.30) rotate(-90) scale(0.35)" class="k">20°N</text>
<text transform="translate(-2.60 39.00) rotate(-90) scale(0.35)" class="k">10°N</text>
<text transform="translate(-2.60 55.00) rotate(-90) scale(0.35)" class="k">0°</text>
<text transform="translate(-2.60 72.40) rotate(-90) scale(0.35)" class="k">10°S</text>
<text transform="translate(-2.60 89.30) rotate(-90) scale(0.35)" class="k">20°S</text>
<text transform="translate(116.30 18.40) rotate(-90) scale(0.35)" class="k">20°N</text>
<text transform="translate(116.30 36.70) rotate(-90) scale(0.35)" class="k">10°N</text>
<text transform="translate(116.30 56.40) rotate(-90) scale(0.35)" class="k">0°</text>
<text transform="translate(116.30 74.70) rotate(-90) scale(0.35)" class="k">10°S</text>
<text transform="translate(116.30 92.50) rotate(-90) scale(0.35)" class="k">20°S</text>
<path d="M6.7 5.4L9.5 13.4L6.7 11.4L3.9 13.4Z" fill="#000"/>
<text transform="translate(6.50 3.90) scale(0.22)" style="fill:#333">N</text>
<text transform="translate(109.20 7.30) scale(0.48)" style="text-anchor:end" class="t">Spring</text>
<path d="M7.5 98.3v2h7.6v-1.1M15.1 100.3h7.6v-2" stroke="#444" stroke-width="0.5" fill="none"/>
<text transform="translate(7.50 95.30) scale(0.37)" class="k">0</text>
<text transform="translate(22.60 95.30) scale(0.37)" class="k">1,200</text>
<text transform="translate(24.60 101.00) scale(0.37)" style="text-anchor:start" class="k">Km</text>
</g>
<filter id="f3" x="-0.05" y="-0.05" width="1.1" height="1.1" color-interpolation-filters="sRGB"><feGaussianBlur in="SourceGraphic" stdDeviation="0.9" result="b"/><feTurbulence type="fractalNoise" baseFrequency="0.38" numOctaves="3" seed="4" result="n"/><feColorMatrix in="n" type="matrix" values="1 0 0 0 0 1 0 0 0 0 1 0 0 0 0 0 0 0 0 1" result="g"/><feComposite in="b" in2="g" operator="arithmetic" k1="0" k2="1.25" k3="0.55" k4="-0.4" result="f"/><feTurbulence type="fractalNoise" baseFrequency="0.13" numOctaves="2" seed="24" result="n2"/><feColorMatrix in="n2" type="matrix" values="1 0 0 0 0 1 0 0 0 0 1 0 0 0 0 0 0 0 0 1" result="g2"/><feComposite in="f" in2="g2" operator="arithmetic" k1="0" k2="1" k3="0.55" k4="-0.275" result="f"/><feComponentTransfer in="f" result="c"><feFuncR type="table" tableValues="0.000 0.376 1.000 1.000 0.988"/><feFuncG type="table" tableValues="0.627 0.839 0.980 0.557 0.047"/><feFuncB type="table" tableValues="0.000 0.118 0.157 0.086 0.031"/></feComponentTransfer><feGaussianBlur in="c" stdDeviation="0.4"/></filter>
<g transform="translate(395.50 123.70) scale(1.0009 1.0010)">
<g fill="none" stroke="#e4e4e4" stroke-width="0.35">
<path d="M9.4 0Q7.138 52 6.7 104.7"/>
<path d="M21.8 0Q19.886 52 19.3 104.7"/>
<path d="M32.9 0Q31.608 52 31.2 104.7"/>
<path d="M42.9 0Q42.358 52 42.3 104.7"/>
<path d="M53.4 0Q53.768 52 54.2 104.7"/>
<path d="M63.2 0Q64.114 52 64.7 104.7"/>
<path d="M73.7 0Q75.424 52 76.4 104.7"/>
<path d="M87.3 0Q89.196 52 89.8 104.7"/>
<path d="M100.9 0Q103.868 52 105 104.7"/>
<path d="M0 5.5Q52 6.75 111.5 -2"/>
<path d="M0 22Q52 25 111.5 18"/>
<path d="M0 38Q52 42.4 111.5 36.8"/>
<path d="M0 55Q52 60.7 111.5 56.4"/>
<path d="M0 72.3Q52 78.65 111.5 75"/>
<path d="M0 89.5Q52 96.15 111.5 92.8"/>
</g>
<g clip-path="url(#af)"><g filter="url(#f3)">
<rect x="-12" y="-12" width="136" height="130" fill="#8f8f8f"/>
<ellipse cx="34.31" cy="11.30" rx="26.28" ry="6.26" fill="url(#v41)" transform="rotate(-3 34.31 11.30)"/><ellipse cx="24.22" cy="9.28" rx="6.26" ry="3.13" fill="url(#v48)" transform="rotate(-20 24.22 9.28)"/><ellipse cx="46.42" cy="12.92" rx="5.01" ry="2.82" fill="url(#v48)"/><ellipse cx="18.97" cy="15.74" rx="5.01" ry="2.82" fill="url(#v46)" transform="rotate(-40 18.97 15.74)"/><ellipse cx="60.54" cy="15.34" rx="8.76" ry="5.01" fill="url(#v33)"/><ellipse cx="67.00" cy="14.13" rx="5.01" ry="3.75" fill="url(#v37)"/><ellipse cx="71.85" cy="25.43" rx="3.44" ry="11.26" fill="url(#v43)" transform="rotate(-8 71.85 25.43)"/><ellipse cx="39.35" cy="27.04" rx="36.91" ry="9.38" fill="url(#v12)" transform="rotate(-3 39.35 27.04)"/><ellipse cx="16.15" cy="32.29" rx="11.26" ry="5.01" fill="url(#v15)"/><ellipse cx="43.59" cy="24.22" rx="12.51" ry="4.38" fill="url(#v4)"/><ellipse cx="30.27" cy="32.29" rx="9.38" ry="3.44" fill="url(#v5)"/><ellipse cx="18.16" cy="30.27" rx="7.51" ry="3.75" fill="url(#v15)"/><ellipse cx="56.91" cy="30.27" rx="7.51" ry="3.75" fill="url(#v7)"/><ellipse cx="8.07" cy="26.24" rx="3.13" ry="5.01" fill="url(#v30)"/><ellipse cx="40.36" cy="37.94" rx="31.28" ry="3.44" fill="url(#v23)" transform="rotate(-2 40.36 37.94)"/><ellipse cx="38.35" cy="40.77" rx="4.38" ry="2.19" fill="url(#v42)"/><ellipse cx="48.84" cy="36.33" rx="4.38" ry="2.19" fill="url(#v41)"/><ellipse cx="10.09" cy="41.57" rx="8.13" ry="3.13" fill="url(#v36)" transform="rotate(40 10.09 41.57)"/><ellipse cx="20.59" cy="48.84" rx="12.51" ry="2.82" fill="url(#v41)" transform="rotate(3 20.59 48.84)"/><ellipse cx="34.71" cy="48.84" rx="6.88" ry="2.82" fill="url(#v36)"/><ellipse cx="68.62" cy="36.33" rx="5.01" ry="4.38" fill="url(#v21)"/><ellipse cx="72.65" cy="43.59" rx="5.01" ry="4.38" fill="url(#v12)"/><ellipse cx="80.73" cy="37.54" rx="5.63" ry="8.13" fill="url(#v44)"/><ellipse cx="79.11" cy="30.27" rx="3.13" ry="5.01" fill="url(#v40)"/><ellipse cx="84.76" cy="48.84" rx="6.88" ry="4.38" fill="url(#v50)"/><ellipse cx="92.03" cy="43.59" rx="6.88" ry="3.13" fill="url(#v36)" transform="rotate(-25 92.03 43.59)"/><ellipse cx="83.96" cy="55.13" rx="7.51" ry="10.01" fill="url(#v50)" transform="rotate(-40 83.96 55.13)"/><ellipse cx="58.93" cy="58.76" rx="12.51" ry="10.01" fill="url(#v19)"/><ellipse cx="62.97" cy="57.14" rx="3.13" ry="2.50" fill="url(#v6)"/><ellipse cx="67.00" cy="62.79" rx="3.13" ry="3.13" fill="url(#v6)"/><ellipse cx="46.42" cy="58.35" rx="2.82" ry="5.63" fill="url(#v32)"/><ellipse cx="77.90" cy="64.41" rx="4.69" ry="5.63" fill="url(#v42)"/><ellipse cx="79.11" cy="59.57" rx="4.38" ry="4.38" fill="url(#v48)"/><ellipse cx="80.73" cy="70.87" rx="3.75" ry="4.38" fill="url(#v43)"/><ellipse cx="79.92" cy="76.92" rx="3.44" ry="5.63" fill="url(#v43)"/><ellipse cx="53.68" cy="71.67" rx="6.88" ry="6.88" fill="url(#v35)"/><ellipse cx="47.43" cy="72.48" rx="1.88" ry="7.51" fill="url(#v46)" transform="rotate(-5 47.43 72.48)"/><ellipse cx="67.00" cy="72.48" rx="5.63" ry="5.01" fill="url(#v20)"/><ellipse cx="71.04" cy="68.45" rx="3.13" ry="3.13" fill="url(#v10)"/><ellipse cx="50.86" cy="82.57" rx="3.75" ry="4.38" fill="url(#v21)"/><ellipse cx="54.09" cy="83.38" rx="3.13" ry="3.13" fill="url(#v12)"/><ellipse cx="64.98" cy="87.82" rx="3.13" ry="2.50" fill="url(#v11)"/><ellipse cx="60.95" cy="82.57" rx="4.38" ry="3.13" fill="url(#v31)"/><ellipse cx="67.00" cy="89.84" rx="4.38" ry="3.44" fill="url(#v10)"/><ellipse cx="71.85" cy="86.61" rx="3.13" ry="5.01" fill="url(#v43)" transform="rotate(30 71.85 86.61)"/><ellipse cx="60.95" cy="95.89" rx="5.63" ry="3.13" fill="url(#v31)"/><ellipse cx="55.70" cy="99.12" rx="5.63" ry="2.82" fill="url(#v20)"/><ellipse cx="48.84" cy="89.03" rx="2.50" ry="6.26" fill="url(#v43)" transform="rotate(-12 48.84 89.03)"/><ellipse cx="90.82" cy="85.80" rx="4.69" ry="11.26" fill="url(#v31)" transform="rotate(25 90.82 85.80)"/><ellipse cx="88.40" cy="88.63" rx="2.50" ry="8.13" fill="url(#v48)" transform="rotate(22 88.40 88.63)"/>
</g></g>
<circle cx="102.3" cy="85.6" r="0.35" fill="#e8c878"/><circle cx="105.6" cy="85.2" r="0.35" fill="#e8c878"/>
<rect x="0" y="0" width="111.5" height="104.7" fill="none" stroke="#858585" stroke-width="1"/>
<path d="M9.4 0v-1M6.7 104.7v1M21.8 0v-1M19.3 104.7v1M32.9 0v-1M31.2 104.7v1M42.9 0v-1M42.3 104.7v1M53.4 0v-1M54.2 104.7v1M63.2 0v-1M64.7 104.7v1M73.7 0v-1M76.4 104.7v1M87.3 0v-1M89.8 104.7v1M100.9 0v-1M105 104.7v1M0 5.5h-1M0 22.3h-1M0 39h-1M0 55h-1M0 72.4h-1M0 89.3h-1M111.5 18.4h1M111.5 36.7h1M111.5 56.4h1M111.5 74.7h1M111.5 92.5h1" stroke="#555" stroke-width="0.5" fill="none"/>
<text transform="translate(9.40 -2.20) scale(0.35)" class="k">20°W</text>
<text transform="translate(6.70 110.60) scale(0.35)" class="k">20°W</text>
<text transform="translate(21.80 -2.20) scale(0.35)" class="k">10°W</text>
<text transform="translate(19.30 110.60) scale(0.35)" class="k">10°W</text>
<text transform="translate(32.90 -2.20) scale(0.35)" class="k">0°</text>
<text transform="translate(31.20 110.60) scale(0.35)" class="k">0°</text>
<text transform="translate(42.90 -2.20) scale(0.35)" class="k">10°E</text>
<text transform="translate(42.30 110.60) scale(0.35)" class="k">10°E</text>
<text transform="translate(53.40 -2.20) scale(0.35)" class="k">20°E</text>
<text transform="translate(54.20 110.60) scale(0.35)" class="k">20°E</text>
<text transform="translate(63.20 -2.20) scale(0.35)" class="k">30°E</text>
<text transform="translate(64.70 110.60) scale(0.35)" class="k">30°E</text>
<text transform="translate(73.70 -2.20) scale(0.35)" class="k">40°E</text>
<text transform="translate(76.40 110.60) scale(0.35)" class="k">40°E</text>
<text transform="translate(87.30 -2.20) scale(0.35)" class="k">50°E</text>
<text transform="translate(89.80 110.60) scale(0.35)" class="k">50°E</text>
<text transform="translate(100.90 -2.20) scale(0.35)" class="k">60°E</text>
<text transform="translate(105.00 110.60) scale(0.35)" class="k">60°E</text>
<text transform="translate(-2.60 5.50) rotate(-90) scale(0.35)" class="k">30°N</text>
<text transform="translate(-2.60 22.30) rotate(-90) scale(0.35)" class="k">20°N</text>
<text transform="translate(-2.60 39.00) rotate(-90) scale(0.35)" class="k">10°N</text>
<text transform="translate(-2.60 55.00) rotate(-90) scale(0.35)" class="k">0°</text>
<text transform="translate(-2.60 72.40) rotate(-90) scale(0.35)" class="k">10°S</text>
<text transform="translate(-2.60 89.30) rotate(-90) scale(0.35)" class="k">20°S</text>
<text transform="translate(116.30 18.40) rotate(-90) scale(0.35)" class="k">20°N</text>
<text transform="translate(116.30 36.70) rotate(-90) scale(0.35)" class="k">10°N</text>
<text transform="translate(116.30 56.40) rotate(-90) scale(0.35)" class="k">0°</text>
<text transform="translate(116.30 74.70) rotate(-90) scale(0.35)" class="k">10°S</text>
<text transform="translate(116.30 92.50) rotate(-90) scale(0.35)" class="k">20°S</text>
<path d="M6.7 5.4L9.5 13.4L6.7 11.4L3.9 13.4Z" fill="#000"/>
<text transform="translate(6.50 3.90) scale(0.22)" style="fill:#333">N</text>
<text transform="translate(109.20 7.30) scale(0.48)" style="text-anchor:end" class="t">Summer</text>
<path d="M7.5 98.3v2h7.6v-1.1M15.1 100.3h7.6v-2" stroke="#444" stroke-width="0.5" fill="none"/>
<text transform="translate(7.50 95.30) scale(0.37)" class="k">0</text>
<text transform="translate(22.60 95.30) scale(0.37)" class="k">1,200</text>
<text transform="translate(24.60 101.00) scale(0.37)" style="text-anchor:start" class="k">Km</text>
</g>
<filter id="f4" x="-0.05" y="-0.05" width="1.1" height="1.1" color-interpolation-filters="sRGB"><feGaussianBlur in="SourceGraphic" stdDeviation="0.9" result="b"/><feTurbulence type="fractalNoise" baseFrequency="0.38" numOctaves="3" seed="5" result="n"/><feColorMatrix in="n" type="matrix" values="1 0 0 0 0 1 0 0 0 0 1 0 0 0 0 0 0 0 0 1" result="g"/><feComposite in="b" in2="g" operator="arithmetic" k1="0" k2="1.2" k3="0.6" k4="-0.4" result="f"/><feTurbulence type="fractalNoise" baseFrequency="0.13" numOctaves="2" seed="25" result="n2"/><feColorMatrix in="n2" type="matrix" values="1 0 0 0 0 1 0 0 0 0 1 0 0 0 0 0 0 0 0 1" result="g2"/><feComposite in="f" in2="g2" operator="arithmetic" k1="0" k2="1" k3="0.75" k4="-0.375" result="f"/><feComponentTransfer in="f" result="c"><feFuncR type="table" tableValues="0.031 0.078 0.204 1.000 0.933"/><feFuncG type="table" tableValues="0.157 0.627 0.878 0.722 0.322"/><feFuncB type="table" tableValues="0.549 0.541 0.188 0.063 0.141"/></feComponentTransfer><feGaussianBlur in="c" stdDeviation="0.4"/></filter>
<g transform="translate(17.60 243.40) scale(0.9928 0.9924)">
<g fill="none" stroke="#e4e4e4" stroke-width="0.35">
<path d="M9.4 0Q7.138 52 6.7 104.7"/>
<path d="M21.8 0Q19.886 52 19.3 104.7"/>
<path d="M32.9 0Q31.608 52 31.2 104.7"/>
<path d="M42.9 0Q42.358 52 42.3 104.7"/>
<path d="M53.4 0Q53.768 52 54.2 104.7"/>
<path d="M63.2 0Q64.114 52 64.7 104.7"/>
<path d="M73.7 0Q75.424 52 76.4 104.7"/>
<path d="M87.3 0Q89.196 52 89.8 104.7"/>
<path d="M100.9 0Q103.868 52 105 104.7"/>
<path d="M0 5.5Q52 6.75 111.5 -2"/>
<path d="M0 22Q52 25 111.5 18"/>
<path d="M0 38Q52 42.4 111.5 36.8"/>
<path d="M0 55Q52 60.7 111.5 56.4"/>
<path d="M0 72.3Q52 78.65 111.5 75"/>
<path d="M0 89.5Q52 96.15 111.5 92.8"/>
</g>
<g clip-path="url(#af)"><g filter="url(#f4)">
<rect x="-12" y="-12" width="136" height="130" fill="#666666"/>
<ellipse cx="33.30" cy="9.28" rx="20.65" ry="4.69" fill="url(#v3)" transform="rotate(-4 33.30 9.28)"/><ellipse cx="24.22" cy="10.49" rx="6.26" ry="3.13" fill="url(#v2)" transform="rotate(-20 24.22 10.49)"/><ellipse cx="43.39" cy="8.88" rx="5.63" ry="2.82" fill="url(#v2)"/><ellipse cx="20.18" cy="15.34" rx="5.63" ry="2.82" fill="url(#v18)" transform="rotate(-40 20.18 15.34)"/><ellipse cx="30.27" cy="16.55" rx="25.03" ry="3.44" fill="url(#v23)" transform="rotate(-3 30.27 16.55)"/><ellipse cx="62.56" cy="17.36" rx="13.14" ry="8.13" fill="url(#v2)"/><ellipse cx="67.81" cy="15.34" rx="4.38" ry="4.38" fill="url(#v1)"/><ellipse cx="70.64" cy="24.62" rx="4.38" ry="5.01" fill="url(#v18)"/><ellipse cx="56.51" cy="23.41" rx="4.38" ry="3.75" fill="url(#v15)"/><ellipse cx="38.75" cy="25.83" rx="21.90" ry="7.51" fill="url(#v37)" transform="rotate(-10 38.75 25.83)"/><ellipse cx="18.57" cy="31.89" rx="18.14" ry="6.26" fill="url(#v38)" transform="rotate(5 18.57 31.89)"/><ellipse cx="10.09" cy="32.69" rx="3.75" ry="2.82" fill="url(#v44)"/><ellipse cx="20.59" cy="31.48" rx="4.38" ry="2.50" fill="url(#v44)"/><ellipse cx="12.11" cy="24.22" rx="4.38" ry="3.75" fill="url(#v24)"/><ellipse cx="30.27" cy="37.54" rx="12.51" ry="3.75" fill="url(#v22)"/><ellipse cx="40.36" cy="36.33" rx="4.38" ry="2.50" fill="url(#v14)"/><ellipse cx="11.10" cy="43.59" rx="10.64" ry="4.07" fill="url(#v2)" transform="rotate(40 11.10 43.59)"/><ellipse cx="22.20" cy="48.84" rx="12.51" ry="3.44" fill="url(#v4)" transform="rotate(3 22.20 48.84)"/><ellipse cx="32.69" cy="44.80" rx="5.63" ry="3.75" fill="url(#v18)"/><ellipse cx="24.22" cy="41.57" rx="5.01" ry="2.82" fill="url(#v15)"/><ellipse cx="67.41" cy="43.19" rx="25.03" ry="9.70" fill="url(#v39)" transform="rotate(3 67.41 43.19)"/><ellipse cx="69.02" cy="43.59" rx="6.26" ry="3.13" fill="url(#v44)"/><ellipse cx="60.54" cy="40.36" rx="5.01" ry="2.82" fill="url(#v43)"/><ellipse cx="77.90" cy="41.57" rx="5.01" ry="2.82" fill="url(#v43)"/><ellipse cx="54.49" cy="33.50" rx="5.63" ry="3.13" fill="url(#v19)"/><ellipse cx="79.92" cy="30.27" rx="3.75" ry="5.63" fill="url(#v24)" transform="rotate(-30 79.92 30.27)"/><ellipse cx="92.03" cy="43.59" rx="7.51" ry="3.13" fill="url(#v26)" transform="rotate(-25 92.03 43.59)"/><ellipse cx="85.97" cy="45.61" rx="3.75" ry="3.13" fill="url(#v35)"/><ellipse cx="46.82" cy="47.63" rx="5.01" ry="3.75" fill="url(#v18)"/><ellipse cx="57.72" cy="56.04" rx="14.39" ry="10.64" fill="url(#v2)"/><ellipse cx="50.45" cy="53.62" rx="5.01" ry="3.75" fill="url(#v5)"/><ellipse cx="47.43" cy="59.67" rx="2.82" ry="5.01" fill="url(#v18)"/><ellipse cx="70.64" cy="56.85" rx="4.38" ry="7.82" fill="url(#v38)"/><ellipse cx="77.90" cy="68.96" rx="5.32" ry="6.88" fill="url(#v42)"/><ellipse cx="80.73" cy="63.71" rx="3.13" ry="3.13" fill="url(#v36)"/><ellipse cx="81.13" cy="55.64" rx="3.75" ry="3.75" fill="url(#v17)"/><ellipse cx="54.09" cy="68.15" rx="8.13" ry="6.88" fill="url(#v7)"/><ellipse cx="60.95" cy="70.17" rx="3.75" ry="3.13" fill="url(#v3)"/><ellipse cx="68.62" cy="68.96" rx="4.38" ry="3.75" fill="url(#v20)"/><ellipse cx="66.60" cy="74.20" rx="2.82" ry="2.50" fill="url(#v5)"/><ellipse cx="79.92" cy="78.24" rx="3.13" ry="4.38" fill="url(#v28)"/><ellipse cx="58.93" cy="81.87" rx="14.39" ry="5.63" fill="url(#v37)" transform="rotate(3 58.93 81.87)"/><ellipse cx="66.60" cy="77.03" rx="3.75" ry="2.82" fill="url(#v36)"/><ellipse cx="50.45" cy="75.82" rx="3.75" ry="3.13" fill="url(#v23)"/><ellipse cx="60.54" cy="91.16" rx="5.01" ry="2.82" fill="url(#v23)"/><ellipse cx="67.00" cy="89.14" rx="3.13" ry="2.50" fill="url(#v14)"/><ellipse cx="60.54" cy="99.23" rx="10.64" ry="3.44" fill="url(#v3)" transform="rotate(-5 60.54 99.23)"/><ellipse cx="51.66" cy="92.37" rx="2.50" ry="4.38" fill="url(#v17)" transform="rotate(-15 51.66 92.37)"/><ellipse cx="71.85" cy="87.12" rx="2.50" ry="5.01" fill="url(#v10)" transform="rotate(30 71.85 87.12)"/><ellipse cx="90.82" cy="85.10" rx="4.69" ry="11.26" fill="url(#v15)" transform="rotate(25 90.82 85.10)"/><ellipse cx="88.40" cy="87.93" rx="2.50" ry="8.13" fill="url(#v5)" transform="rotate(22 88.40 87.93)"/>
</g></g>
<circle cx="102.3" cy="85.6" r="0.35" fill="#8899aa"/><circle cx="105.6" cy="85.2" r="0.35" fill="#8899aa"/>
<rect x="0" y="0" width="111.5" height="104.7" fill="none" stroke="#858585" stroke-width="1"/>
<path d="M9.4 0v-1M6.7 104.7v1M21.8 0v-1M19.3 104.7v1M32.9 0v-1M31.2 104.7v1M42.9 0v-1M42.3 104.7v1M53.4 0v-1M54.2 104.7v1M63.2 0v-1M64.7 104.7v1M73.7 0v-1M76.4 104.7v1M87.3 0v-1M89.8 104.7v1M100.9 0v-1M105 104.7v1M0 5.5h-1M0 22.3h-1M0 39h-1M0 55h-1M0 72.4h-1M0 89.3h-1M111.5 18.4h1M111.5 36.7h1M111.5 56.4h1M111.5 74.7h1M111.5 92.5h1" stroke="#555" stroke-width="0.5" fill="none"/>
<text transform="translate(9.40 -2.20) scale(0.35)" class="k">20°W</text>
<text transform="translate(6.70 110.60) scale(0.35)" class="k">20°W</text>
<text transform="translate(21.80 -2.20) scale(0.35)" class="k">10°W</text>
<text transform="translate(19.30 110.60) scale(0.35)" class="k">10°W</text>
<text transform="translate(32.90 -2.20) scale(0.35)" class="k">0°</text>
<text transform="translate(31.20 110.60) scale(0.35)" class="k">0°</text>
<text transform="translate(42.90 -2.20) scale(0.35)" class="k">10°E</text>
<text transform="translate(42.30 110.60) scale(0.35)" class="k">10°E</text>
<text transform="translate(53.40 -2.20) scale(0.35)" class="k">20°E</text>
<text transform="translate(54.20 110.60) scale(0.35)" class="k">20°E</text>
<text transform="translate(63.20 -2.20) scale(0.35)" class="k">30°E</text>
<text transform="translate(64.70 110.60) scale(0.35)" class="k">30°E</text>
<text transform="translate(73.70 -2.20) scale(0.35)" class="k">40°E</text>
<text transform="translate(76.40 110.60) scale(0.35)" class="k">40°E</text>
<text transform="translate(87.30 -2.20) scale(0.35)" class="k">50°E</text>
<text transform="translate(89.80 110.60) scale(0.35)" class="k">50°E</text>
<text transform="translate(100.90 -2.20) scale(0.35)" class="k">60°E</text>
<text transform="translate(105.00 110.60) scale(0.35)" class="k">60°E</text>
<text transform="translate(-2.60 5.50) rotate(-90) scale(0.35)" class="k">30°N</text>
<text transform="translate(-2.60 22.30) rotate(-90) scale(0.35)" class="k">20°N</text>
<text transform="translate(-2.60 39.00) rotate(-90) scale(0.35)" class="k">10°N</text>
<text transform="translate(-2.60 55.00) rotate(-90) scale(0.35)" class="k">0°</text>
<text transform="translate(-2.60 72.40) rotate(-90) scale(0.35)" class="k">10°S</text>
<text transform="translate(-2.60 89.30) rotate(-90) scale(0.35)" class="k">20°S</text>
<text transform="translate(116.30 18.40) rotate(-90) scale(0.35)" class="k">20°N</text>
<text transform="translate(116.30 36.70) rotate(-90) scale(0.35)" class="k">10°N</text>
<text transform="translate(116.30 56.40) rotate(-90) scale(0.35)" class="k">0°</text>
<text transform="translate(116.30 74.70) rotate(-90) scale(0.35)" class="k">10°S</text>
<text transform="translate(116.30 92.50) rotate(-90) scale(0.35)" class="k">20°S</text>
<path d="M6.7 5.4L9.5 13.4L6.7 11.4L3.9 13.4Z" fill="#000"/>
<text transform="translate(6.50 3.90) scale(0.22)" style="fill:#333">N</text>
<text transform="translate(109.20 7.30) scale(0.48)" style="text-anchor:end" class="t">Autumn</text>
<path d="M7.5 98.3v2h7.6v-1.1M15.1 100.3h7.6v-2" stroke="#444" stroke-width="0.5" fill="none"/>
<text transform="translate(7.50 95.30) scale(0.37)" class="k">0</text>
<text transform="translate(22.60 95.30) scale(0.37)" class="k">1,200</text>
<text transform="translate(24.60 101.00) scale(0.37)" style="text-anchor:start" class="k">Km</text>
</g>
<filter id="f5" x="-0.05" y="-0.05" width="1.1" height="1.1" color-interpolation-filters="sRGB"><feGaussianBlur in="SourceGraphic" stdDeviation="0.9" result="b"/><feTurbulence type="fractalNoise" baseFrequency="0.38" numOctaves="3" seed="6" result="n"/><feColorMatrix in="n" type="matrix" values="1 0 0 0 0 1 0 0 0 0 1 0 0 0 0 0 0 0 0 1" result="g"/><feComposite in="b" in2="g" operator="arithmetic" k1="0" k2="1.2" k3="0.6" k4="-0.4" result="f"/><feTurbulence type="fractalNoise" baseFrequency="0.13" numOctaves="2" seed="26" result="n2"/><feColorMatrix in="n2" type="matrix" values="1 0 0 0 0 1 0 0 0 0 1 0 0 0 0 0 0 0 0 1" result="g2"/><feComposite in="f" in2="g2" operator="arithmetic" k1="0" k2="1" k3="0.75" k4="-0.375" result="f"/><feComponentTransfer in="f" result="c"><feFuncR type="table" tableValues="0.031 0.078 0.204 1.000 0.933"/><feFuncG type="table" tableValues="0.157 0.627 0.878 0.722 0.322"/><feFuncB type="table" tableValues="0.549 0.541 0.188 0.063 0.141"/></feComponentTransfer><feGaussianBlur in="c" stdDeviation="0.4"/></filter>
<g transform="translate(145.50 244.20) scale(1.0135 1.0019)">
<g fill="none" stroke="#e4e4e4" stroke-width="0.35">
<path d="M9.4 0Q7.138 52 6.7 104.7"/>
<path d="M21.8 0Q19.886 52 19.3 104.7"/>
<path d="M32.9 0Q31.608 52 31.2 104.7"/>
<path d="M42.9 0Q42.358 52 42.3 104.7"/>
<path d="M53.4 0Q53.768 52 54.2 104.7"/>
<path d="M63.2 0Q64.114 52 64.7 104.7"/>
<path d="M73.7 0Q75.424 52 76.4 104.7"/>
<path d="M87.3 0Q89.196 52 89.8 104.7"/>
<path d="M100.9 0Q103.868 52 105 104.7"/>
<path d="M0 5.5Q52 6.75 111.5 -2"/>
<path d="M0 22Q52 25 111.5 18"/>
<path d="M0 38Q52 42.4 111.5 36.8"/>
<path d="M0 55Q52 60.7 111.5 56.4"/>
<path d="M0 72.3Q52 78.65 111.5 75"/>
<path d="M0 89.5Q52 96.15 111.5 92.8"/>
</g>
<g clip-path="url(#af)"><g filter="url(#f5)">
<rect x="-12" y="-12" width="136" height="130" fill="#616161"/>
<ellipse cx="38.37" cy="23.67" rx="13.29" ry="10.76" fill="url(#v47)"/><ellipse cx="43.88" cy="13.47" rx="13.29" ry="4.11" fill="url(#v37)"/><ellipse cx="56.33" cy="28.98" rx="13.92" ry="4.74" fill="url(#v40)" transform="rotate(15 56.33 28.98)"/><ellipse cx="67.35" cy="33.06" rx="10.76" ry="6.33" fill="url(#v46)" transform="rotate(5 67.35 33.06)"/><ellipse cx="27.55" cy="17.55" rx="7.91" ry="3.48" fill="url(#v35)"/><ellipse cx="22.45" cy="11.43" rx="5.06" ry="3.16" fill="url(#v23)" transform="rotate(-30 22.45 11.43)"/><ellipse cx="26.94" cy="8.98" rx="3.80" ry="2.21" fill="url(#v15)"/><ellipse cx="54.29" cy="11.43" rx="4.43" ry="2.53" fill="url(#v17)"/><ellipse cx="61.22" cy="16.73" rx="7.59" ry="4.43" fill="url(#v23)"/><ellipse cx="58.37" cy="20.82" rx="3.16" ry="2.21" fill="url(#v8)"/><ellipse cx="68.57" cy="15.51" rx="4.43" ry="4.43" fill="url(#v10)"/><ellipse cx="71.43" cy="22.86" rx="3.80" ry="4.43" fill="url(#v19)"/><ellipse cx="65.31" cy="22.86" rx="3.80" ry="2.85" fill="url(#v28)"/><ellipse cx="14.29" cy="31.02" rx="12.65" ry="6.01" fill="url(#v3)" transform="rotate(5 14.29 31.02)"/><ellipse cx="24.49" cy="27.76" rx="4.43" ry="3.16" fill="url(#v9)"/><ellipse cx="10.20" cy="39.18" rx="4.43" ry="3.16" fill="url(#v14)"/><ellipse cx="22.45" cy="35.92" rx="4.43" ry="2.53" fill="url(#v23)"/><ellipse cx="30.61" cy="33.88" rx="4.43" ry="2.53" fill="url(#v8)"/><ellipse cx="26.53" cy="40.00" rx="3.80" ry="2.53" fill="url(#v4)"/><ellipse cx="43.88" cy="40.82" rx="3.80" ry="2.53" fill="url(#v6)"/><ellipse cx="40.82" cy="36.73" rx="3.16" ry="2.21" fill="url(#v7)"/><ellipse cx="12.24" cy="44.08" rx="8.22" ry="3.16" fill="url(#v28)" transform="rotate(40 12.24 44.08)"/><ellipse cx="20.41" cy="48.16" rx="7.59" ry="2.85" fill="url(#v23)"/><ellipse cx="71.43" cy="42.04" rx="4.43" ry="5.69" fill="url(#v38)"/><ellipse cx="74.69" cy="49.39" rx="3.80" ry="3.16" fill="url(#v42)"/><ellipse cx="78.78" cy="36.73" rx="3.80" ry="4.43" fill="url(#v35)"/><ellipse cx="80.82" cy="44.08" rx="3.16" ry="3.16" fill="url(#v15)"/><ellipse cx="92.24" cy="43.27" rx="7.59" ry="3.16" fill="url(#v19)" transform="rotate(-25 92.24 43.27)"/><ellipse cx="61.22" cy="46.12" rx="3.80" ry="2.53" fill="url(#v6)"/><ellipse cx="78.78" cy="28.57" rx="3.80" ry="5.69" fill="url(#v23)" transform="rotate(-30 78.78 28.57)"/><ellipse cx="57.14" cy="57.11" rx="12.65" ry="9.49" fill="url(#v8)"/><ellipse cx="60.41" cy="54.66" rx="3.80" ry="2.85" fill="url(#v3)"/><ellipse cx="53.47" cy="59.96" rx="3.80" ry="3.16" fill="url(#v3)"/><ellipse cx="51.02" cy="55.47" rx="3.16" ry="2.53" fill="url(#v18)"/><ellipse cx="46.12" cy="61.19" rx="2.21" ry="4.74" fill="url(#v36)"/><ellipse cx="70.61" cy="55.88" rx="3.16" ry="5.69" fill="url(#v38)"/><ellipse cx="71.84" cy="66.09" rx="4.43" ry="3.80" fill="url(#v37)"/><ellipse cx="78.78" cy="63.23" rx="3.80" ry="4.43" fill="url(#v29)"/><ellipse cx="80.00" cy="57.92" rx="3.16" ry="3.16" fill="url(#v23)"/><ellipse cx="87.76" cy="54.66" rx="2.21" ry="8.86" fill="url(#v3)" transform="rotate(-42 87.76 54.66)"/><ellipse cx="82.45" cy="55.07" rx="3.16" ry="3.80" fill="url(#v10)"/><ellipse cx="54.29" cy="70.58" rx="8.54" ry="8.54" fill="url(#v3)"/><ellipse cx="61.63" cy="66.09" rx="3.80" ry="3.16" fill="url(#v4)"/><ellipse cx="67.76" cy="72.21" rx="5.69" ry="3.48" fill="url(#v34)"/><ellipse cx="80.82" cy="72.21" rx="3.16" ry="3.80" fill="url(#v28)"/><ellipse cx="78.78" cy="78.33" rx="3.16" ry="3.16" fill="url(#v23)"/><ellipse cx="50.20" cy="78.33" rx="3.16" ry="4.43" fill="url(#v25)"/><ellipse cx="53.47" cy="84.45" rx="3.80" ry="3.16" fill="url(#v25)"/><ellipse cx="61.63" cy="82.41" rx="5.06" ry="3.80" fill="url(#v10)"/><ellipse cx="67.76" cy="84.45" rx="3.80" ry="3.16" fill="url(#v29)"/><ellipse cx="63.67" cy="92.62" rx="7.59" ry="4.43" fill="url(#v6)"/><ellipse cx="57.55" cy="95.88" rx="3.80" ry="2.85" fill="url(#v23)"/><ellipse cx="69.80" cy="90.58" rx="3.16" ry="2.85" fill="url(#v28)"/><ellipse cx="55.10" cy="102.00" rx="3.16" ry="1.90" fill="url(#v36)"/><ellipse cx="92.24" cy="85.68" rx="4.74" ry="11.39" fill="url(#v5)" transform="rotate(25 92.24 85.68)"/><ellipse cx="89.80" cy="88.53" rx="2.53" ry="8.22" fill="url(#v1)" transform="rotate(22 89.80 88.53)"/>
</g></g>
<circle cx="102.3" cy="85.6" r="0.35" fill="#8899aa"/><circle cx="105.6" cy="85.2" r="0.35" fill="#8899aa"/>
<rect x="0" y="0" width="111.5" height="104.7" fill="none" stroke="#858585" stroke-width="1"/>
<path d="M9.4 0v-1M6.7 104.7v1M21.8 0v-1M19.3 104.7v1M32.9 0v-1M31.2 104.7v1M42.9 0v-1M42.3 104.7v1M53.4 0v-1M54.2 104.7v1M63.2 0v-1M64.7 104.7v1M73.7 0v-1M76.4 104.7v1M87.3 0v-1M89.8 104.7v1M100.9 0v-1M105 104.7v1M0 5.5h-1M0 22.3h-1M0 39h-1M0 55h-1M0 72.4h-1M0 89.3h-1M111.5 18.4h1M111.5 36.7h1M111.5 56.4h1M111.5 74.7h1M111.5 92.5h1" stroke="#555" stroke-width="0.5" fill="none"/>
<text transform="translate(9.40 -2.20) scale(0.35)" class="k">20°W</text>
<text transform="translate(6.70 110.60) scale(0.35)" class="k">20°W</text>
<text transform="translate(21.80 -2.20) scale(0.35)" class="k">10°W</text>
<text transform="translate(19.30 110.60) scale(0.35)" class="k">10°W</text>
<text transform="translate(32.90 -2.20) scale(0.35)" class="k">0°</text>
<text transform="translate(31.20 110.60) scale(0.35)" class="k">0°</text>
<text transform="translate(42.90 -2.20) scale(0.35)" class="k">10°E</text>
<text transform="translate(42.30 110.60) scale(0.35)" class="k">10°E</text>
<text transform="translate(53.40 -2.20) scale(0.35)" class="k">20°E</text>
<text transform="translate(54.20 110.60) scale(0.35)" class="k">20°E</text>
<text transform="translate(63.20 -2.20) scale(0.35)" class="k">30°E</text>
<text transform="translate(64.70 110.60) scale(0.35)" class="k">30°E</text>
<text transform="translate(73.70 -2.20) scale(0.35)" class="k">40°E</text>
<text transform="translate(76.40 110.60) scale(0.35)" class="k">40°E</text>
<text transform="translate(87.30 -2.20) scale(0.35)" class="k">50°E</text>
<text transform="translate(89.80 110.60) scale(0.35)" class="k">50°E</text>
<text transform="translate(100.90 -2.20) scale(0.35)" class="k">60°E</text>
<text transform="translate(105.00 110.60) scale(0.35)" class="k">60°E</text>
<text transform="translate(-2.60 5.50) rotate(-90) scale(0.35)" class="k">30°N</text>
<text transform="translate(-2.60 22.30) rotate(-90) scale(0.35)" class="k">20°N</text>
<text transform="translate(-2.60 39.00) rotate(-90) scale(0.35)" class="k">10°N</text>
<text transform="translate(-2.60 55.00) rotate(-90) scale(0.35)" class="k">0°</text>
<text transform="translate(-2.60 72.40) rotate(-90) scale(0.35)" class="k">10°S</text>
<text transform="translate(-2.60 89.30) rotate(-90) scale(0.35)" class="k">20°S</text>
<text transform="translate(116.30 18.40) rotate(-90) scale(0.35)" class="k">20°N</text>
<text transform="translate(116.30 36.70) rotate(-90) scale(0.35)" class="k">10°N</text>
<text transform="translate(116.30 56.40) rotate(-90) scale(0.35)" class="k">0°</text>
<text transform="translate(116.30 74.70) rotate(-90) scale(0.35)" class="k">10°S</text>
<text transform="translate(116.30 92.50) rotate(-90) scale(0.35)" class="k">20°S</text>
<path d="M6.7 5.4L9.5 13.4L6.7 11.4L3.9 13.4Z" fill="#000"/>
<text transform="translate(6.50 3.90) scale(0.22)" style="fill:#333">N</text>
<text transform="translate(109.20 7.30) scale(0.48)" style="text-anchor:end" class="t">Winter</text>
<path d="M7.5 98.3v2h7.6v-1.1M15.1 100.3h7.6v-2" stroke="#444" stroke-width="0.5" fill="none"/>
<text transform="translate(7.50 95.30) scale(0.37)" class="k">0</text>
<text transform="translate(22.60 95.30) scale(0.37)" class="k">1,200</text>
<text transform="translate(24.60 101.00) scale(0.37)" style="text-anchor:start" class="k">Km</text>
</g>
<filter id="f6" x="-0.05" y="-0.05" width="1.1" height="1.1" color-interpolation-filters="sRGB"><feGaussianBlur in="SourceGraphic" stdDeviation="0.9" result="b"/><feTurbulence type="fractalNoise" baseFrequency="0.38" numOctaves="3" seed="7" result="n"/><feColorMatrix in="n" type="matrix" values="1 0 0 0 0 1 0 0 0 0 1 0 0 0 0 0 0 0 0 1" result="g"/><feComposite in="b" in2="g" operator="arithmetic" k1="0" k2="1.2" k3="0.6" k4="-0.4" result="f"/><feTurbulence type="fractalNoise" baseFrequency="0.13" numOctaves="2" seed="27" result="n2"/><feColorMatrix in="n2" type="matrix" values="1 0 0 0 0 1 0 0 0 0 1 0 0 0 0 0 0 0 0 1" result="g2"/><feComposite in="f" in2="g2" operator="arithmetic" k1="0" k2="1" k3="0.75" k4="-0.375" result="f"/><feComponentTransfer in="f" result="c"><feFuncR type="table" tableValues="0.031 0.078 0.204 1.000 0.933"/><feFuncG type="table" tableValues="0.157 0.627 0.878 0.722 0.322"/><feFuncB type="table" tableValues="0.549 0.541 0.188 0.063 0.141"/></feComponentTransfer><feGaussianBlur in="c" stdDeviation="0.4"/></filter>
<g transform="translate(271.80 245.20) scale(0.9946 0.9924)">
<g fill="none" stroke="#e4e4e4" stroke-width="0.35">
<path d="M9.4 0Q7.138 52 6.7 104.7"/>
<path d="M21.8 0Q19.886 52 19.3 104.7"/>
<path d="M32.9 0Q31.608 52 31.2 104.7"/>
<path d="M42.9 0Q42.358 52 42.3 104.7"/>
<path d="M53.4 0Q53.768 52 54.2 104.7"/>
<path d="M63.2 0Q64.114 52 64.7 104.7"/>
<path d="M73.7 0Q75.424 52 76.4 104.7"/>
<path d="M87.3 0Q89.196 52 89.8 104.7"/>
<path d="M100.9 0Q103.868 52 105 104.7"/>
<path d="M0 5.5Q52 6.75 111.5 -2"/>
<path d="M0 22Q52 25 111.5 18"/>
<path d="M0 38Q52 42.4 111.5 36.8"/>
<path d="M0 55Q52 60.7 111.5 56.4"/>
<path d="M0 72.3Q52 78.65 111.5 75"/>
<path d="M0 89.5Q52 96.15 111.5 92.8"/>
</g>
<g clip-path="url(#af)"><g filter="url(#f6)">
<rect x="-12" y="-12" width="136" height="130" fill="#616161"/>
<ellipse cx="27.85" cy="9.28" rx="12.51" ry="5.01" fill="url(#v2)" transform="rotate(-10 27.85 9.28)"/><ellipse cx="20.18" cy="15.34" rx="4.38" ry="2.82" fill="url(#v14)" transform="rotate(-40 20.18 15.34)"/><ellipse cx="42.38" cy="10.09" rx="7.51" ry="2.82" fill="url(#v23)"/><ellipse cx="52.88" cy="11.30" rx="4.38" ry="2.82" fill="url(#v23)"/><ellipse cx="62.56" cy="16.55" rx="9.38" ry="5.01" fill="url(#v24)"/><ellipse cx="69.83" cy="20.18" rx="3.75" ry="5.01" fill="url(#v18)"/><ellipse cx="46.42" cy="19.78" rx="16.89" ry="5.01" fill="url(#v30)"/><ellipse cx="41.37" cy="25.43" rx="15.64" ry="3.44" fill="url(#v36)"/><ellipse cx="34.31" cy="22.20" rx="6.26" ry="2.82" fill="url(#v35)"/><ellipse cx="22.20" cy="28.66" rx="8.76" ry="5.63" fill="url(#v46)"/><ellipse cx="30.27" cy="34.31" rx="9.38" ry="2.82" fill="url(#v38)" transform="rotate(5 30.27 34.31)"/><ellipse cx="17.36" cy="35.52" rx="7.51" ry="2.82" fill="url(#v36)"/><ellipse cx="12.11" cy="30.27" rx="3.75" ry="3.13" fill="url(#v28)"/><ellipse cx="8.07" cy="32.29" rx="2.82" ry="3.75" fill="url(#v23)"/><ellipse cx="10.09" cy="40.36" rx="3.75" ry="3.13" fill="url(#v10)"/><ellipse cx="12.11" cy="44.40" rx="10.64" ry="4.07" fill="url(#v2)" transform="rotate(40 12.11 44.40)"/><ellipse cx="24.22" cy="47.63" rx="13.76" ry="4.07" fill="url(#v2)" transform="rotate(3 24.22 47.63)"/><ellipse cx="36.33" cy="45.61" rx="5.63" ry="3.13" fill="url(#v8)"/><ellipse cx="46.42" cy="41.98" rx="30.66" ry="5.32" fill="url(#v5)" transform="rotate(-3 46.42 41.98)"/><ellipse cx="40.36" cy="38.35" rx="9.38" ry="3.13" fill="url(#v10)"/><ellipse cx="58.53" cy="47.43" rx="9.38" ry="3.75" fill="url(#v7)"/><ellipse cx="54.49" cy="30.27" rx="7.51" ry="4.38" fill="url(#v23)"/><ellipse cx="62.97" cy="32.29" rx="4.38" ry="3.13" fill="url(#v28)"/><ellipse cx="67.81" cy="35.52" rx="3.13" ry="2.19" fill="url(#v37)"/><ellipse cx="73.86" cy="30.27" rx="3.75" ry="4.38" fill="url(#v23)"/><ellipse cx="76.69" cy="40.36" rx="3.75" ry="4.38" fill="url(#v37)"/><ellipse cx="80.73" cy="46.82" rx="3.13" ry="2.82" fill="url(#v36)"/><ellipse cx="70.64" cy="45.61" rx="4.38" ry="3.13" fill="url(#v8)"/><ellipse cx="91.22" cy="43.59" rx="7.51" ry="3.13" fill="url(#v29)" transform="rotate(-25 91.22 43.59)"/><ellipse cx="84.76" cy="46.42" rx="3.13" ry="2.50" fill="url(#v30)"/><ellipse cx="56.51" cy="57.45" rx="14.39" ry="10.01" fill="url(#v5)"/><ellipse cx="50.45" cy="63.91" rx="5.01" ry="4.38" fill="url(#v7)"/><ellipse cx="61.76" cy="65.12" rx="4.38" ry="3.75" fill="url(#v6)"/><ellipse cx="71.85" cy="61.89" rx="6.57" ry="11.26" fill="url(#v45)" transform="rotate(3 71.85 61.89)"/><ellipse cx="66.60" cy="68.35" rx="3.13" ry="3.13" fill="url(#v37)"/><ellipse cx="81.13" cy="55.84" rx="3.13" ry="3.75" fill="url(#v14)"/><ellipse cx="85.97" cy="54.63" rx="2.19" ry="7.51" fill="url(#v4)" transform="rotate(-42 85.97 54.63)"/><ellipse cx="79.92" cy="65.93" rx="2.82" ry="3.75" fill="url(#v23)"/><ellipse cx="80.73" cy="71.98" rx="2.82" ry="5.01" fill="url(#v5)"/><ellipse cx="52.88" cy="69.96" rx="7.51" ry="6.88" fill="url(#v13)"/><ellipse cx="56.91" cy="67.14" rx="3.13" ry="2.50" fill="url(#v4)"/><ellipse cx="49.65" cy="73.19" rx="2.50" ry="2.50" fill="url(#v5)"/><ellipse cx="64.98" cy="74.00" rx="5.01" ry="3.75" fill="url(#v28)"/><ellipse cx="70.64" cy="75.21" rx="2.50" ry="2.50" fill="url(#v13)"/><ellipse cx="77.90" cy="79.25" rx="2.82" ry="3.13" fill="url(#v23)"/><ellipse cx="50.45" cy="81.27" rx="3.75" ry="3.75" fill="url(#v25)"/><ellipse cx="60.54" cy="82.07" rx="5.01" ry="3.44" fill="url(#v29)"/><ellipse cx="67.81" cy="85.30" rx="5.63" ry="3.44" fill="url(#v37)"/><ellipse cx="54.89" cy="90.55" rx="8.13" ry="5.63" fill="url(#v2)"/><ellipse cx="60.95" cy="95.39" rx="4.38" ry="2.82" fill="url(#v4)"/><ellipse cx="66.60" cy="92.16" rx="3.13" ry="2.82" fill="url(#v33)"/><ellipse cx="70.64" cy="88.13" rx="2.50" ry="3.13" fill="url(#v36)"/><ellipse cx="58.53" cy="100.64" rx="4.38" ry="2.19" fill="url(#v28)"/><ellipse cx="91.22" cy="85.30" rx="4.69" ry="11.26" fill="url(#v8)" transform="rotate(25 91.22 85.30)"/><ellipse cx="88.80" cy="88.13" rx="2.50" ry="8.13" fill="url(#v3)" transform="rotate(22 88.80 88.13)"/>
</g></g>
<circle cx="102.3" cy="85.6" r="0.35" fill="#8899aa"/><circle cx="105.6" cy="85.2" r="0.35" fill="#8899aa"/>
<rect x="0" y="0" width="111.5" height="104.7" fill="none" stroke="#858585" stroke-width="1"/>
<path d="M9.4 0v-1M6.7 104.7v1M21.8 0v-1M19.3 104.7v1M32.9 0v-1M31.2 104.7v1M42.9 0v-1M42.3 104.7v1M53.4 0v-1M54.2 104.7v1M63.2 0v-1M64.7 104.7v1M73.7 0v-1M76.4 104.7v1M87.3 0v-1M89.8 104.7v1M100.9 0v-1M105 104.7v1M0 5.5h-1M0 22.3h-1M0 39h-1M0 55h-1M0 72.4h-1M0 89.3h-1M111.5 18.4h1M111.5 36.7h1M111.5 56.4h1M111.5 74.7h1M111.5 92.5h1" stroke="#555" stroke-width="0.5" fill="none"/>
<text transform="translate(9.40 -2.20) scale(0.35)" class="k">20°W</text>
<text transform="translate(6.70 110.60) scale(0.35)" class="k">20°W</text>
<text transform="translate(21.80 -2.20) scale(0.35)" class="k">10°W</text>
<text transform="translate(19.30 110.60) scale(0.35)" class="k">10°W</text>
<text transform="translate(32.90 -2.20) scale(0.35)" class="k">0°</text>
<text transform="translate(31.20 110.60) scale(0.35)" class="k">0°</text>
<text transform="translate(42.90 -2.20) scale(0.35)" class="k">10°E</text>
<text transform="translate(42.30 110.60) scale(0.35)" class="k">10°E</text>
<text transform="translate(53.40 -2.20) scale(0.35)" class="k">20°E</text>
<text transform="translate(54.20 110.60) scale(0.35)" class="k">20°E</text>
<text transform="translate(63.20 -2.20) scale(0.35)" class="k">30°E</text>
<text transform="translate(64.70 110.60) scale(0.35)" class="k">30°E</text>
<text transform="translate(73.70 -2.20) scale(0.35)" class="k">40°E</text>
<text transform="translate(76.40 110.60) scale(0.35)" class="k">40°E</text>
<text transform="translate(87.30 -2.20) scale(0.35)" class="k">50°E</text>
<text transform="translate(89.80 110.60) scale(0.35)" class="k">50°E</text>
<text transform="translate(100.90 -2.20) scale(0.35)" class="k">60°E</text>
<text transform="translate(105.00 110.60) scale(0.35)" class="k">60°E</text>
<text transform="translate(-2.60 5.50) rotate(-90) scale(0.35)" class="k">30°N</text>
<text transform="translate(-2.60 22.30) rotate(-90) scale(0.35)" class="k">20°N</text>
<text transform="translate(-2.60 39.00) rotate(-90) scale(0.35)" class="k">10°N</text>
<text transform="translate(-2.60 55.00) rotate(-90) scale(0.35)" class="k">0°</text>
<text transform="translate(-2.60 72.40) rotate(-90) scale(0.35)" class="k">10°S</text>
<text transform="translate(-2.60 89.30) rotate(-90) scale(0.35)" class="k">20°S</text>
<text transform="translate(116.30 18.40) rotate(-90) scale(0.35)" class="k">20°N</text>
<text transform="translate(116.30 36.70) rotate(-90) scale(0.35)" class="k">10°N</text>
<text transform="translate(116.30 56.40) rotate(-90) scale(0.35)" class="k">0°</text>
<text transform="translate(116.30 74.70) rotate(-90) scale(0.35)" class="k">10°S</text>
<text transform="translate(116.30 92.50) rotate(-90) scale(0.35)" class="k">20°S</text>
<path d="M6.7 5.4L9.5 13.4L6.7 11.4L3.9 13.4Z" fill="#000"/>
<text transform="translate(6.50 3.90) scale(0.22)" style="fill:#333">N</text>
<text transform="translate(109.20 7.30) scale(0.48)" style="text-anchor:end" class="t">Spring</text>
<path d="M7.5 98.3v2h7.6v-1.1M15.1 100.3h7.6v-2" stroke="#444" stroke-width="0.5" fill="none"/>
<text transform="translate(7.50 95.30) scale(0.37)" class="k">0</text>
<text transform="translate(22.60 95.30) scale(0.37)" class="k">1,200</text>
<text transform="translate(24.60 101.00) scale(0.37)" style="text-anchor:start" class="k">Km</text>
</g>
<filter id="f7" x="-0.05" y="-0.05" width="1.1" height="1.1" color-interpolation-filters="sRGB"><feGaussianBlur in="SourceGraphic" stdDeviation="0.9" result="b"/><feTurbulence type="fractalNoise" baseFrequency="0.38" numOctaves="3" seed="8" result="n"/><feColorMatrix in="n" type="matrix" values="1 0 0 0 0 1 0 0 0 0 1 0 0 0 0 0 0 0 0 1" result="g"/><feComposite in="b" in2="g" operator="arithmetic" k1="0" k2="1.2" k3="0.55" k4="-0.375" result="f"/><feTurbulence type="fractalNoise" baseFrequency="0.13" numOctaves="2" seed="28" result="n2"/><feColorMatrix in="n2" type="matrix" values="1 0 0 0 0 1 0 0 0 0 1 0 0 0 0 0 0 0 0 1" result="g2"/><feComposite in="f" in2="g2" operator="arithmetic" k1="0" k2="1" k3="0.55" k4="-0.275" result="f"/><feComponentTransfer in="f" result="c"><feFuncR type="table" tableValues="0.031 0.078 0.204 1.000 0.933"/><feFuncG type="table" tableValues="0.157 0.627 0.878 0.722 0.322"/><feFuncB type="table" tableValues="0.549 0.541 0.188 0.063 0.141"/></feComponentTransfer><feGaussianBlur in="c" stdDeviation="0.4"/></filter>
<g transform="translate(396.80 245.00) scale(1.0036 0.9971)">
<g fill="none" stroke="#e4e4e4" stroke-width="0.35">
<path d="M9.4 0Q7.138 52 6.7 104.7"/>
<path d="M21.8 0Q19.886 52 19.3 104.7"/>
<path d="M32.9 0Q31.608 52 31.2 104.7"/>
<path d="M42.9 0Q42.358 52 42.3 104.7"/>
<path d="M53.4 0Q53.768 52 54.2 104.7"/>
<path d="M63.2 0Q64.114 52 64.7 104.7"/>
<path d="M73.7 0Q75.424 52 76.4 104.7"/>
<path d="M87.3 0Q89.196 52 89.8 104.7"/>
<path d="M100.9 0Q103.868 52 105 104.7"/>
<path d="M0 5.5Q52 6.75 111.5 -2"/>
<path d="M0 22Q52 25 111.5 18"/>
<path d="M0 38Q52 42.4 111.5 36.8"/>
<path d="M0 55Q52 60.7 111.5 56.4"/>
<path d="M0 72.3Q52 78.65 111.5 75"/>
<path d="M0 89.5Q52 96.15 111.5 92.8"/>
</g>
<g clip-path="url(#af)"><g filter="url(#f7)">
<rect x="-12" y="-12" width="136" height="130" fill="#666666"/>
<ellipse cx="34.55" cy="10.16" rx="27.72" ry="4.41" fill="url(#v13)" transform="rotate(-4 34.55 10.16)"/><ellipse cx="26.42" cy="9.35" rx="5.67" ry="2.52" fill="url(#v6)" transform="rotate(-15 26.42 9.35)"/><ellipse cx="60.98" cy="13.41" rx="8.19" ry="3.47" fill="url(#v17)"/><ellipse cx="68.29" cy="15.45" rx="4.41" ry="3.78" fill="url(#v13)"/><ellipse cx="26.42" cy="18.29" rx="28.98" ry="4.73" fill="url(#v23)" transform="rotate(-3 26.42 18.29)"/><ellipse cx="12.20" cy="22.76" rx="5.04" ry="3.78" fill="url(#v23)"/><ellipse cx="45.93" cy="25.20" rx="30.24" ry="10.08" fill="url(#v34)"/><ellipse cx="46.75" cy="23.98" rx="20.16" ry="5.67" fill="url(#v34)"/><ellipse cx="32.52" cy="28.46" rx="12.60" ry="5.04" fill="url(#v35)"/><ellipse cx="28.46" cy="23.98" rx="15.75" ry="5.67" fill="url(#v34)"/><ellipse cx="58.94" cy="25.61" rx="12.60" ry="6.93" fill="url(#v34)"/><ellipse cx="43.70" cy="28.46" rx="15.75" ry="5.04" fill="url(#v35)"/><ellipse cx="63.01" cy="22.36" rx="5.04" ry="4.41" fill="url(#v30)"/><ellipse cx="26.42" cy="35.77" rx="33.39" ry="5.67" fill="url(#v42)" transform="rotate(2 26.42 35.77)"/><ellipse cx="12.20" cy="36.59" rx="5.04" ry="2.84" fill="url(#v48)"/><ellipse cx="26.42" cy="36.59" rx="5.67" ry="2.52" fill="url(#v48)"/><ellipse cx="38.62" cy="37.80" rx="5.04" ry="2.52" fill="url(#v48)"/><ellipse cx="53.25" cy="36.59" rx="6.30" ry="3.47" fill="url(#v38)"/><ellipse cx="65.45" cy="37.80" rx="5.04" ry="3.15" fill="url(#v34)"/><ellipse cx="71.14" cy="26.42" rx="4.73" ry="7.88" fill="url(#v7)"/><ellipse cx="75.20" cy="32.52" rx="3.15" ry="3.78" fill="url(#v3)"/><ellipse cx="65.45" cy="32.52" rx="3.78" ry="3.15" fill="url(#v28)"/><ellipse cx="11.18" cy="43.90" rx="8.82" ry="3.47" fill="url(#v7)" transform="rotate(40 11.18 43.90)"/><ellipse cx="22.36" cy="47.97" rx="9.45" ry="2.84" fill="url(#v18)"/><ellipse cx="18.29" cy="42.68" rx="4.41" ry="2.52" fill="url(#v23)"/><ellipse cx="40.65" cy="43.90" rx="12.60" ry="2.84" fill="url(#v10)"/><ellipse cx="30.49" cy="41.87" rx="4.41" ry="2.21" fill="url(#v28)"/><ellipse cx="58.94" cy="46.34" rx="13.86" ry="4.10" fill="url(#v42)" transform="rotate(3 58.94 46.34)"/><ellipse cx="81.71" cy="40.65" rx="6.30" ry="8.82" fill="url(#v2)" transform="rotate(5 81.71 40.65)"/><ellipse cx="79.27" cy="32.52" rx="3.15" ry="3.78" fill="url(#v4)"/><ellipse cx="92.68" cy="43.90" rx="7.56" ry="3.15" fill="url(#v10)" transform="rotate(-25 92.68 43.90)"/><ellipse cx="71.54" cy="43.90" rx="3.78" ry="3.15" fill="url(#v30)"/><ellipse cx="85.37" cy="54.85" rx="7.56" ry="10.08" fill="url(#v2)" transform="rotate(-40 85.37 54.85)"/><ellipse cx="80.49" cy="61.35" rx="3.15" ry="3.78" fill="url(#v3)"/><ellipse cx="61.79" cy="60.13" rx="15.12" ry="10.08" fill="url(#v37)"/><ellipse cx="65.45" cy="59.32" rx="3.78" ry="2.52" fill="url(#v46)"/><ellipse cx="71.14" cy="64.20" rx="3.15" ry="2.84" fill="url(#v45)"/><ellipse cx="55.28" cy="56.07" rx="2.84" ry="2.52" fill="url(#v7)"/><ellipse cx="47.97" cy="58.10" rx="3.47" ry="6.30" fill="url(#v7)"/><ellipse cx="76.42" cy="66.23" rx="3.15" ry="3.78" fill="url(#v29)"/><ellipse cx="79.67" cy="72.33" rx="2.84" ry="4.41" fill="url(#v9)"/><ellipse cx="53.25" cy="71.51" rx="7.88" ry="5.36" fill="url(#v4)"/><ellipse cx="61.38" cy="72.33" rx="3.78" ry="3.15" fill="url(#v9)"/><ellipse cx="68.29" cy="72.33" rx="4.41" ry="3.47" fill="url(#v30)"/><ellipse cx="80.49" cy="78.42" rx="2.84" ry="4.41" fill="url(#v9)"/><ellipse cx="55.28" cy="82.49" rx="11.03" ry="5.36" fill="url(#v29)"/><ellipse cx="65.45" cy="86.55" rx="4.41" ry="2.84" fill="url(#v37)"/><ellipse cx="61.38" cy="93.87" rx="6.30" ry="3.15" fill="url(#v24)"/><ellipse cx="69.51" cy="90.62" rx="3.15" ry="2.84" fill="url(#v28)"/><ellipse cx="58.94" cy="101.19" rx="6.30" ry="2.21" fill="url(#v18)"/><ellipse cx="91.87" cy="85.74" rx="4.73" ry="11.34" fill="url(#v15)" transform="rotate(25 91.87 85.74)"/><ellipse cx="89.43" cy="88.59" rx="2.52" ry="8.19" fill="url(#v3)" transform="rotate(22 89.43 88.59)"/>
</g></g>
<circle cx="102.3" cy="85.6" r="0.35" fill="#8899aa"/><circle cx="105.6" cy="85.2" r="0.35" fill="#8899aa"/>
<rect x="0" y="0" width="111.5" height="104.7" fill="none" stroke="#858585" stroke-width="1"/>
<path d="M9.4 0v-1M6.7 104.7v1M21.8 0v-1M19.3 104.7v1M32.9 0v-1M31.2 104.7v1M42.9 0v-1M42.3 104.7v1M53.4 0v-1M54.2 104.7v1M63.2 0v-1M64.7 104.7v1M73.7 0v-1M76.4 104.7v1M87.3 0v-1M89.8 104.7v1M100.9 0v-1M105 104.7v1M0 5.5h-1M0 22.3h-1M0 39h-1M0 55h-1M0 72.4h-1M0 89.3h-1M111.5 18.4h1M111.5 36.7h1M111.5 56.4h1M111.5 74.7h1M111.5 92.5h1" stroke="#555" stroke-width="0.5" fill="none"/>
<text transform="translate(9.40 -2.20) scale(0.35)" class="k">20°W</text>
<text transform="translate(6.70 110.60) scale(0.35)" class="k">20°W</text>
<text transform="translate(21.80 -2.20) scale(0.35)" class="k">10°W</text>
<text transform="translate(19.30 110.60) scale(0.35)" class="k">10°W</text>
<text transform="translate(32.90 -2.20) scale(0.35)" class="k">0°</text>
<text transform="translate(31.20 110.60) scale(0.35)" class="k">0°</text>
<text transform="translate(42.90 -2.20) scale(0.35)" class="k">10°E</text>
<text transform="translate(42.30 110.60) scale(0.35)" class="k">10°E</text>
<text transform="translate(53.40 -2.20) scale(0.35)" class="k">20°E</text>
<text transform="translate(54.20 110.60) scale(0.35)" class="k">20°E</text>
<text transform="translate(63.20 -2.20) scale(0.35)" class="k">30°E</text>
<text transform="translate(64.70 110.60) scale(0.35)" class="k">30°E</text>
<text transform="translate(73.70 -2.20) scale(0.35)" class="k">40°E</text>
<text transform="translate(76.40 110.60) scale(0.35)" class="k">40°E</text>
<text transform="translate(87.30 -2.20) scale(0.35)" class="k">50°E</text>
<text transform="translate(89.80 110.60) scale(0.35)" class="k">50°E</text>
<text transform="translate(100.90 -2.20) scale(0.35)" class="k">60°E</text>
<text transform="translate(105.00 110.60) scale(0.35)" class="k">60°E</text>
<text transform="translate(-2.60 5.50) rotate(-90) scale(0.35)" class="k">30°N</text>
<text transform="translate(-2.60 22.30) rotate(-90) scale(0.35)" class="k">20°N</text>
<text transform="translate(-2.60 39.00) rotate(-90) scale(0.35)" class="k">10°N</text>
<text transform="translate(-2.60 55.00) rotate(-90) scale(0.35)" class="k">0°</text>
<text transform="translate(-2.60 72.40) rotate(-90) scale(0.35)" class="k">10°S</text>
<text transform="translate(-2.60 89.30) rotate(-90) scale(0.35)" class="k">20°S</text>
<text transform="translate(116.30 18.40) rotate(-90) scale(0.35)" class="k">20°N</text>
<text transform="translate(116.30 36.70) rotate(-90) scale(0.35)" class="k">10°N</text>
<text transform="translate(116.30 56.40) rotate(-90) scale(0.35)" class="k">0°</text>
<text transform="translate(116.30 74.70) rotate(-90) scale(0.35)" class="k">10°S</text>
<text transform="translate(116.30 92.50) rotate(-90) scale(0.35)" class="k">20°S</text>
<path d="M6.7 5.4L9.5 13.4L6.7 11.4L3.9 13.4Z" fill="#000"/>
<text transform="translate(6.50 3.90) scale(0.22)" style="fill:#333">N</text>
<text transform="translate(109.20 7.30) scale(0.48)" style="text-anchor:end" class="t">Summer</text>
<path d="M7.5 98.3v2h7.6v-1.1M15.1 100.3h7.6v-2" stroke="#444" stroke-width="0.5" fill="none"/>
<text transform="translate(7.50 95.30) scale(0.37)" class="k">0</text>
<text transform="translate(22.60 95.30) scale(0.37)" class="k">1,200</text>
<text transform="translate(24.60 101.00) scale(0.37)" style="text-anchor:start" class="k">Km</text>
</g>
<text transform="translate(513.90 182.50) scale(0.43)" style="font-family:'Liberation Sans',sans-serif;text-anchor:start;fill:#111" class="t">Slope</text>
<rect x="515.7" y="185.10" width="8.7" height="5.8" fill="#ff0c0c"/>
<text transform="translate(526.60 189.10) scale(0.32)" style="text-anchor:start" class="k">0.15 - 0.09</text>
<rect x="515.7" y="193.34" width="8.7" height="5.8" fill="#ff8a1c"/>
<text transform="translate(526.60 197.34) scale(0.32)" style="text-anchor:start" class="k">0.09 - 0.02</text>
<rect x="515.7" y="201.58" width="8.7" height="5.8" fill="#ffff2c"/>
<text transform="translate(526.60 205.58) scale(0.32)" style="text-anchor:start" class="k">0.02 - -0.03</text>
<rect x="515.7" y="209.82" width="8.7" height="5.8" fill="#64d81e"/>
<text transform="translate(526.60 213.82) scale(0.32)" style="text-anchor:start" class="k">-0.09 - 0.02</text>
<rect x="515.7" y="218.06" width="8.7" height="5.8" fill="#04a404"/>
<text transform="translate(526.60 222.06) scale(0.32)" style="text-anchor:start" class="k">-0.15 - -0.09</text>
<text transform="translate(521.80 300.70) scale(0.6)" style="fill:#111" class="t">R</text>
<rect x="516.9" y="303.70" width="9.0" height="6.1" fill="#0a2e8c"/>
<text transform="translate(527.20 307.90) scale(0.34)" style="text-anchor:start" class="k">0.9 - 0.6</text>
<rect x="516.9" y="312.22" width="9.0" height="6.1" fill="#1ea88c"/>
<text transform="translate(527.20 316.42) scale(0.34)" style="text-anchor:start" class="k">0.6 - 0.4</text>
<rect x="516.9" y="320.74" width="9.0" height="6.1" fill="#34e434"/>
<text transform="translate(527.20 324.94) scale(0.34)" style="text-anchor:start" class="k">0.4 - -0.02</text>
<rect x="516.9" y="329.26" width="9.0" height="6.1" fill="#ffb614"/>
<text transform="translate(527.20 333.46) scale(0.34)" style="text-anchor:start" class="k">-0.4 - -0.6</text>
<rect x="516.9" y="337.78" width="9.0" height="6.1" fill="#f05a2c"/>
<text transform="translate(527.20 341.98) scale(0.34)" style="text-anchor:start" class="k">-0.9 - -0.6</text>
<text transform="translate(10.10 126.80) scale(0.88)" style="font-weight:normal;fill:#333">b</text>
<text transform="translate(6.10 248.80) scale(0.9)" style="fill:#333">c</text>
</svg></body></html>
